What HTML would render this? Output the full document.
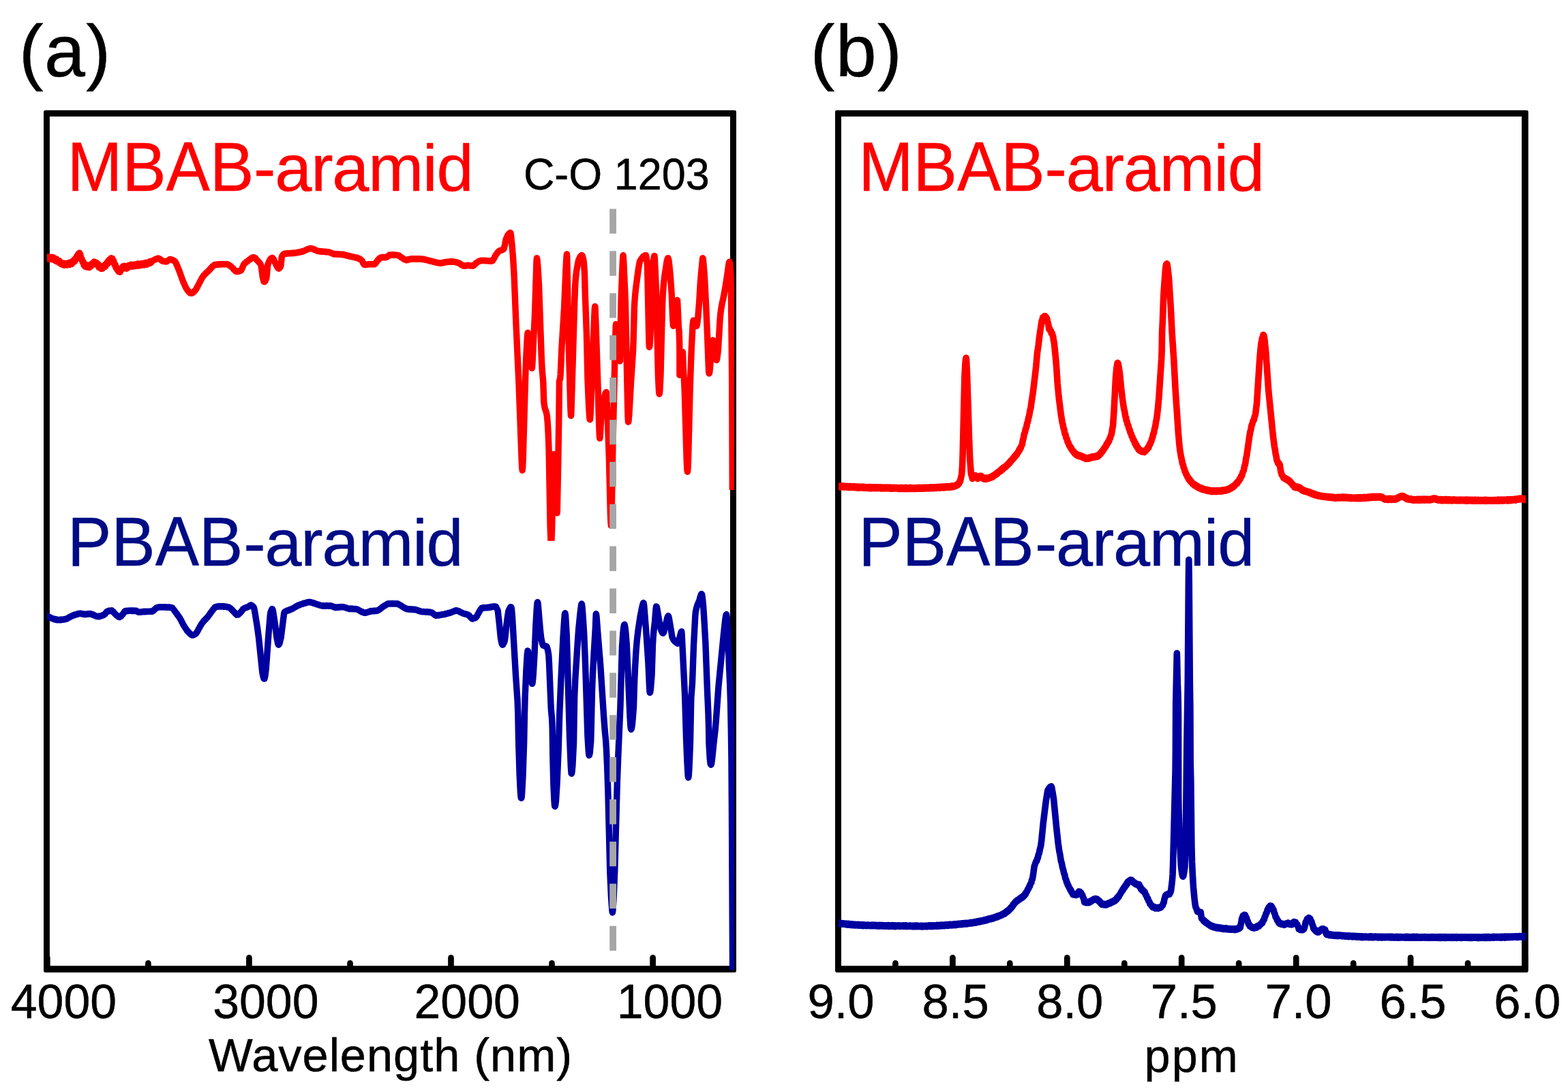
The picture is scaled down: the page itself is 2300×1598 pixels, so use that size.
<!DOCTYPE html>
<html lang="en"><head><meta charset="utf-8"><title>FT-IR and 1H NMR spectra of MBAB-aramid and PBAB-aramid</title>
<style>
html,body{margin:0;padding:0;background:#fff;}
body{width:2300px;height:1598px;overflow:hidden;}
svg{display:block;}
text{font-family:"Liberation Sans",sans-serif;}
</style></head><body>
<svg width="2300" height="1598" viewBox="0 0 2300 1598" role="img" aria-label="FT-IR and 1H NMR spectra">
<rect width="2300" height="1598" fill="#fff"/>
<defs>
<clipPath id="clipA"><rect x="69" y="171" width="1008" height="1256"/></clipPath>
<clipPath id="clipAr"><rect x="69" y="171" width="1008" height="622.7"/></clipPath>
<clipPath id="clipB"><rect x="1230" y="171" width="1008" height="1256"/></clipPath>
</defs>

<g id="panel-a">
<path d="M66.6,161.8 H1077.4 Q1080.0,161.8 1080.0,164.4 V1424.3 Q1080.0,1426.9 1077.4,1426.9 H66.6 Q64.0,1426.9 64.0,1424.3 V164.4 Q64.0,161.8 66.6,161.8 Z M72.9,170.9 V1417.2 H1071.0 V170.9 Z" fill="#000" fill-rule="evenodd"/>
<g stroke="#000" stroke-width="8.7" stroke-linecap="round"><line x1="69.3" y1="1420" x2="69.3" y2="1405.4" /><line x1="365.4" y1="1420" x2="365.4" y2="1405.4" /><line x1="661.5" y1="1420" x2="661.5" y2="1405.4" /><line x1="957.6" y1="1420" x2="957.6" y2="1405.4" /><line x1="217.4" y1="1420" x2="217.4" y2="1413.4" /><line x1="513.5" y1="1420" x2="513.5" y2="1413.4" /><line x1="809.5" y1="1420" x2="809.5" y2="1413.4" /></g>
<g fill="none" stroke-width="9.4" stroke-linejoin="round" stroke-linecap="butt">
<path clip-path="url(#clipAr)" stroke="#ff0000" d="M64.7,378.1 L65.7,377.0 L66.7,380.0 L67.7,376.6 L68.8,379.6 L69.8,377.0 L70.8,379.9 L71.8,377.0 L72.8,380.4 L73.8,377.6 L74.8,379.9 L75.7,377.2 L76.7,380.5 L77.7,377.5 L78.5,380.7 L79.3,378.5 L80.2,382.0 L81.1,379.6 L82.0,383.3 L83.0,380.1 L83.9,383.6 L84.8,381.9 L85.8,385.1 L86.8,382.4 L87.7,386.2 L88.7,384.3 L89.7,387.5 L90.8,385.6 L91.8,388.5 L92.9,386.1 L94.0,389.2 L95.0,386.5 L96.0,388.9 L96.9,386.4 L97.9,389.0 L98.9,386.1 L100.0,388.3 L101.0,385.4 L102.1,388.5 L103.1,385.2 L103.9,387.6 L104.7,384.2 L105.7,387.2 L106.6,383.5 L107.6,385.1 L108.5,381.3 L109.5,383.7 L110.4,379.4 L111.6,381.0 L112.6,376.0 L113.7,377.6 L114.7,372.8 L115.6,374.8 L116.4,371.1 L117.0,375.1 L117.7,372.9 L118.8,379.0 L119.9,379.5 L121.1,384.6 L122.3,384.5 L123.2,389.5 L124.0,388.0 L124.9,391.1 L125.7,388.3 L126.7,391.9 L127.6,389.2 L128.6,392.1 L129.6,389.4 L130.9,392.6 L131.8,389.0 L132.6,391.4 L133.6,387.7 L134.7,389.3 L135.7,386.3 L136.7,388.1 L138.0,384.0 L139.2,387.5 L140.1,384.9 L140.9,387.7 L142.1,385.8 L143.4,389.9 L144.2,387.7 L145.0,392.4 L145.9,390.5 L146.4,393.0 L147.0,393.3 L148.3,394.3 L149.2,391.3 L150.1,394.3 L151.1,390.3 L152.2,392.6 L153.3,389.3 L154.4,391.4 L155.6,386.7 L156.4,388.5 L157.3,384.7 L158.1,387.1 L159.0,382.5 L159.9,385.1 L160.8,380.7 L161.7,382.9 L163.1,378.7 L164.2,381.3 L164.9,379.2 L165.5,383.2 L166.7,382.8 L167.9,388.5 L168.9,387.9 L169.9,392.9 L170.9,392.1 L171.9,395.9 L172.8,394.2 L173.8,398.5 L174.9,396.1 L176.0,399.4 L176.6,397.7 L177.2,397.0 L178.3,393.8 L179.5,393.9 L180.4,390.6 L181.2,393.3 L182.3,390.2 L183.4,393.9 L184.5,390.7 L185.8,394.2 L186.7,390.8 L187.5,393.3 L188.4,389.4 L189.2,391.6 L190.1,389.1 L191.1,391.1 L192.1,388.2 L193.1,391.0 L194.1,388.5 L195.1,391.1 L196.1,388.1 L197.0,390.4 L198.0,388.0 L199.0,390.5 L200.0,387.7 L201.0,390.1 L202.0,387.0 L203.0,390.0 L204.0,387.1 L205.0,389.8 L206.0,387.1 L207.0,389.4 L208.0,386.5 L209.0,388.9 L210.1,386.4 L211.1,389.1 L212.2,385.7 L213.2,388.2 L214.2,385.2 L215.3,388.3 L216.3,385.2 L217.4,387.0 L218.5,384.4 L219.5,386.7 L220.4,383.3 L221.4,385.6 L222.4,383.3 L223.4,383.2 L224.4,382.3 L225.3,382.2 L226.3,381.2 L227.3,381.1 L228.3,380.2 L229.2,380.3 L230.1,379.5 L231.0,379.5 L232.4,379.0 L233.2,379.5 L234.5,379.9 L235.3,380.9 L236.2,381.2 L237.0,382.4 L238.3,382.8 L239.3,383.4 L240.4,383.2 L241.4,383.8 L242.4,383.6 L243.8,384.0 L244.6,383.4 L245.7,383.0 L246.7,382.0 L247.8,381.7 L248.8,380.6 L249.7,381.0 L250.6,380.6 L251.4,381.1 L252.6,381.1 L253.7,382.0 L254.8,382.2 L255.9,383.3 L256.8,383.7 L257.7,385.4 L258.4,386.6 L259.2,388.5 L260.1,390.3 L261.0,392.9 L261.9,394.9 L262.9,397.5 L263.9,400.1 L265.0,403.4 L266.0,406.0 L267.1,409.3 L268.1,411.8 L269.1,414.4 L270.1,416.4 L271.1,419.0 L272.1,420.8 L273.1,423.0 L274.1,424.3 L275.0,425.9 L276.0,426.7 L276.9,428.4 L277.8,428.8 L278.8,430.1 L280.2,430.2 L281.5,430.4 L282.8,429.3 L283.7,428.9 L284.7,427.6 L285.7,427.2 L286.7,425.7 L287.5,424.6 L288.4,422.8 L289.3,421.4 L290.3,419.2 L291.3,417.8 L292.2,415.5 L293.2,414.1 L294.1,411.9 L295.1,410.4 L296.1,408.1 L297.5,406.2 L298.9,403.9 L300.1,403.1 L301.3,401.4 L302.4,400.8 L303.5,399.4 L304.6,398.6 L305.7,397.3 L306.8,396.7 L307.8,395.1 L308.8,394.4 L309.8,392.9 L310.9,392.1 L311.9,390.6 L313.3,389.7 L314.8,388.5 L315.7,388.8 L316.6,388.3 L317.5,388.5 L318.5,387.9 L319.6,388.3 L320.7,387.7 L321.8,388.1 L322.9,387.6 L323.9,388.0 L324.9,387.6 L325.9,387.9 L326.8,387.6 L327.8,387.9 L328.8,387.6 L329.8,388.0 L330.8,387.6 L331.7,387.9 L332.7,387.5 L334.0,388.2 L335.2,388.5 L336.4,389.4 L337.6,390.0 L338.7,391.2 L339.8,391.7 L340.9,393.0 L342.1,393.9 L343.2,395.7 L344.4,396.6 L345.8,398.3 L346.8,398.3 L347.8,398.5 L348.8,398.1 L349.7,398.4 L350.9,397.7 L352.0,397.6 L353.1,396.9 L353.7,396.8 L354.6,394.8 L355.5,393.0 L356.5,390.4 L357.4,388.5 L358.6,386.7 L360.0,385.7 L361.0,384.5 L362.0,384.2 L363.0,383.2 L364.0,382.8 L364.9,381.6 L365.9,381.4 L366.9,380.2 L367.9,379.9 L368.8,378.8 L369.8,378.5 L370.7,377.8 L371.5,377.8 L372.6,377.6 L373.6,378.5 L374.5,378.7 L375.4,380.2 L376.3,380.8 L377.3,382.2 L378.2,382.8 L379.4,384.4 L380.5,385.2 L381.7,387.2 L382.9,389.2 L383.5,392.7 L385.2,406.3 L386.0,409.2 L386.8,412.7 L387.3,413.4 L387.8,413.6 L388.6,412.8 L389.3,412.0 L390.1,409.4 L390.9,407.7 L392.5,391.3 L393.0,388.0 L394.2,384.7 L395.5,382.1 L396.9,379.7 L398.0,379.0 L399.3,378.2 L399.8,378.5 L400.6,379.4 L401.5,380.8 L402.8,383.9 L404.0,386.2 L405.0,388.6 L406.0,390.2 L407.1,392.7 L408.1,393.7 L409.0,394.2 L409.7,393.5 L410.4,393.2 L411.8,390.5 L413.3,377.0 L414.6,374.6 L415.4,373.4 L416.3,373.0 L417.2,372.2 L418.2,372.5 L419.2,372.0 L420.2,372.2 L421.1,371.7 L422.1,372.1 L423.1,371.6 L424.1,371.9 L425.0,371.5 L426.0,371.8 L427.0,371.4 L427.9,371.8 L428.9,371.2 L429.9,371.6 L430.9,371.1 L431.8,371.5 L432.8,370.9 L433.8,371.1 L434.7,370.6 L435.7,370.8 L436.7,370.2 L437.6,370.5 L438.6,370.0 L439.5,370.1 L440.6,369.5 L441.6,369.7 L442.7,369.0 L443.7,369.2 L444.8,368.5 L445.8,368.4 L446.9,367.6 L447.9,367.4 L448.9,366.6 L450.0,366.5 L451.0,365.6 L452.0,365.6 L452.9,364.9 L453.8,365.0 L454.7,364.5 L455.7,364.8 L456.6,364.5 L457.5,365.0 L458.5,364.9 L459.5,365.7 L460.5,365.8 L461.5,366.7 L462.5,366.8 L463.6,367.5 L464.6,367.7 L465.8,368.4 L466.9,368.4 L467.9,368.8 L468.9,368.5 L469.9,369.0 L470.9,368.7 L471.9,369.2 L472.9,368.9 L473.9,369.3 L475.0,369.1 L476.0,369.5 L477.0,369.2 L478.0,369.7 L479.0,369.4 L480.0,369.9 L481.0,369.6 L482.0,370.0 L482.9,369.9 L483.9,370.6 L484.9,370.7 L486.0,371.5 L487.0,371.5 L488.1,372.4 L489.0,372.2 L490.0,373.0 L491.0,372.6 L492.0,373.1 L493.0,372.7 L494.1,373.2 L495.1,372.8 L496.1,373.3 L497.2,372.9 L498.2,373.4 L499.2,373.1 L500.2,373.5 L501.3,373.2 L502.3,373.7 L503.3,373.3 L504.3,373.9 L505.2,373.7 L506.2,374.4 L507.1,374.2 L508.1,374.9 L509.0,374.8 L510.0,375.4 L510.9,375.3 L511.9,376.0 L512.9,375.8 L513.9,376.4 L515.0,376.3 L516.0,376.9 L517.1,376.7 L518.1,377.3 L519.1,377.1 L520.2,377.8 L521.2,377.6 L522.3,378.2 L523.3,378.0 L524.3,378.8 L525.3,378.7 L526.2,379.5 L527.2,379.5 L528.1,380.5 L529.1,380.7 L530.1,381.7 L531.2,382.8 L532.4,385.6 L533.7,387.5 L534.2,388.3 L534.8,388.6 L535.8,388.6 L536.7,388.1 L537.7,388.4 L538.7,387.9 L539.6,388.1 L540.6,387.6 L541.5,388.0 L542.5,387.6 L543.5,387.9 L544.4,387.6 L545.4,387.9 L546.3,387.5 L547.3,387.9 L548.3,387.5 L549.2,387.9 L549.9,387.2 L550.8,386.6 L551.9,384.7 L553.0,383.5 L554.1,381.7 L555.0,381.2 L555.8,379.9 L556.7,379.5 L557.5,378.4 L558.3,378.3 L559.1,377.6 L559.9,377.8 L560.8,377.4 L561.8,377.8 L562.7,377.4 L563.7,377.7 L564.7,377.4 L565.6,377.8 L566.6,377.4 L567.8,377.2 L568.9,375.9 L570.0,375.5 L571.2,374.1 L572.0,374.3 L573.0,373.9 L573.9,374.2 L575.0,373.8 L576.1,374.2 L577.2,373.9 L578.2,374.3 L579.3,374.0 L580.4,374.4 L581.4,374.1 L582.3,374.6 L583.3,374.4 L584.2,374.8 L585.5,375.1 L586.6,376.4 L587.7,376.8 L588.8,378.0 L589.9,378.3 L590.9,379.3 L592.0,379.7 L593.0,380.7 L594.3,380.9 L595.5,381.7 L596.5,381.2 L597.4,381.6 L598.5,380.8 L599.6,381.0 L600.7,380.2 L601.8,380.4 L603.3,379.7 L604.3,380.2 L605.3,379.8 L606.3,380.1 L607.3,379.8 L608.3,380.2 L609.2,379.8 L610.2,380.1 L611.2,379.8 L612.2,380.2 L613.2,379.8 L614.2,380.2 L615.2,379.8 L616.2,380.2 L617.2,379.8 L618.2,380.3 L619.3,380.0 L620.4,380.6 L621.5,380.3 L622.5,381.0 L623.5,380.8 L624.4,381.4 L625.4,381.2 L626.3,381.8 L627.3,381.6 L628.2,382.3 L629.2,382.1 L630.2,382.8 L631.2,382.6 L632.2,383.3 L633.2,383.1 L634.2,383.7 L635.2,383.6 L636.2,384.3 L637.2,384.2 L638.2,384.8 L639.2,384.6 L640.2,385.3 L641.2,385.2 L642.2,385.8 L643.3,385.6 L644.4,386.2 L645.6,386.0 L646.8,386.3 L648.0,385.8 L649.0,385.9 L650.0,385.3 L651.0,385.5 L652.0,384.8 L652.9,385.0 L654.2,384.4 L655.4,384.7 L656.5,384.2 L657.6,384.4 L658.7,383.9 L659.8,384.2 L660.8,383.8 L661.8,384.2 L662.8,383.7 L663.8,384.1 L664.7,383.7 L665.8,384.3 L666.9,384.2 L668.0,384.7 L669.1,384.6 L670.1,385.4 L671.1,385.3 L672.1,385.9 L673.2,385.9 L674.5,387.0 L675.6,387.4 L676.8,388.6 L678.0,389.0 L678.8,389.8 L679.7,389.8 L680.6,390.3 L681.5,389.9 L682.6,390.2 L683.7,389.6 L684.7,389.9 L685.8,389.3 L686.8,389.5 L687.9,389.3 L689.0,389.9 L690.0,389.6 L691.1,390.1 L692.1,389.9 L693.5,390.2 L694.3,389.4 L695.1,389.5 L696.0,388.1 L697.0,387.7 L698.0,386.4 L699.0,385.8 L699.9,384.9 L700.8,384.6 L701.8,383.7 L702.7,383.5 L703.8,382.6 L704.8,382.6 L705.8,382.2 L706.7,382.6 L707.6,382.1 L708.6,382.5 L709.6,382.3 L710.6,382.7 L711.6,382.3 L712.7,382.7 L713.7,382.5 L714.7,382.9 L715.7,382.6 L716.7,383.1 L717.8,382.7 L718.8,383.1 L719.8,382.8 L720.8,383.3 L721.6,382.8 L722.4,382.7 L723.8,380.5 L724.9,378.8 L726.0,376.4 L727.0,374.7 L728.0,373.0 L729.0,372.0 L730.0,370.3 L731.0,369.4 L731.9,368.4 L732.7,368.1 L733.9,367.4 L735.0,367.5 L736.1,366.7 L737.2,366.7 L738.0,365.8 L738.8,365.7 L739.8,362.4 L740.9,357.4 L742.0,351.5 L743.2,348.7 L744.5,345.5 L745.6,344.3 L746.6,342.8 L747.5,342.2 L748.3,341.4 L748.8,341.5 L749.2,342.8 L749.6,346.1 L751.4,363.5 L752.8,381.8 L754.1,404.0 L757.0,476.2 L761.0,562.7 L765.2,676.1 L765.7,686.4 L766.2,690.2 L766.4,689.2 L766.7,685.6 L767.3,671.0 L770.9,545.9 L771.8,524.3 L773.4,493.9 L774.0,488.4 L774.2,488.3 L774.3,488.6 L774.7,490.4 L776.7,512.5 L779.0,533.9 L779.9,539.5 L780.3,540.3 L780.5,539.4 L781.1,530.9 L782.4,502.7 L784.5,461.6 L787.0,382.8 L787.4,378.6 L787.7,379.3 L788.0,381.1 L789.0,392.3 L790.5,417.7 L794.3,525.2 L795.1,541.2 L796.8,560.3 L797.8,589.9 L798.9,597.4 L799.5,600.1 L800.4,602.1 L801.3,605.0 L802.3,609.8 L803.2,619.3 L804.1,634.1 L805.1,660.9 L807.1,772.5 L807.9,793.5 L808.2,798.3 L808.5,799.7 L808.9,794.6 L809.6,777.1 L811.5,688.6 L811.9,673.1 L812.3,666.6 L812.4,666.4 L812.5,666.6 L812.8,668.2 L813.3,676.3 L816.4,746.7 L816.9,752.4 L817.1,752.9 L817.3,751.3 L818.8,677.4 L819.9,609.1 L820.4,560.3 L820.8,557.8 L821.5,556.2 L821.7,555.0 L822.2,549.3 L824.0,508.9 L827.5,453.0 L829.7,400.2 L830.8,378.8 L831.4,372.9 L831.6,374.6 L831.9,383.4 L833.1,449.5 L834.5,513.6 L836.7,595.6 L837.4,610.0 L837.6,610.2 L837.7,608.8 L838.1,600.9 L842.7,445.5 L843.5,423.4 L844.0,414.1 L844.8,405.2 L845.6,398.1 L847.2,388.7 L848.6,382.0 L849.9,379.1 L851.1,376.6 L852.3,375.4 L853.2,374.5 L853.7,374.7 L854.1,375.1 L854.6,376.4 L855.5,379.8 L856.2,383.6 L857.5,400.6 L858.2,429.0 L860.4,489.0 L862.0,557.7 L863.6,594.8 L864.7,612.5 L865.1,615.3 L865.3,615.8 L865.5,615.6 L866.2,607.0 L871.7,464.9 L872.3,452.8 L872.6,450.1 L872.8,449.6 L872.9,449.7 L873.3,456.2 L874.3,484.2 L877.1,569.0 L878.7,623.7 L879.4,640.5 L879.8,643.2 L880.2,641.3 L881.9,611.4 L883.6,597.5 L884.8,590.9 L885.7,587.2 L886.6,582.8 L887.4,579.3 L888.1,576.8 L888.8,575.9 L889.3,575.5 L889.5,576.6 L890.3,589.3 L892.1,636.6 L893.4,673.6 L895.3,752.6 L895.9,766.7 L896.2,770.2 L896.4,771.4 L896.8,766.8 L897.2,752.4 L898.9,657.5 L901.8,527.9 L903.1,480.3 L903.5,475.7 L903.9,476.5 L904.2,478.7 L908.2,523.9 L908.9,528.9 L909.2,529.9 L909.3,530.0 L909.4,529.7 L909.8,516.5 L910.7,457.3 L911.2,437.3 L912.5,402.9 L913.5,380.6 L914.0,374.8 L914.3,376.1 L914.7,382.0 L916.6,423.7 L917.5,447.2 L920.6,596.5 L921.1,613.4 L921.5,619.3 L921.8,618.9 L922.1,616.7 L922.9,608.1 L925.4,563.2 L928.3,519.6 L929.1,501.2 L930.4,451.9 L931.0,440.7 L931.8,431.4 L932.7,422.7 L936.3,395.6 L937.2,390.3 L938.0,385.6 L939.0,382.4 L939.9,381.3 L940.8,379.6 L942.2,378.0 L943.7,376.1 L944.8,375.7 L945.9,374.8 L946.9,374.9 L947.5,374.8 L947.9,376.1 L949.1,384.2 L949.5,391.1 L949.9,406.3 L951.7,493.6 L952.1,505.7 L952.5,509.4 L952.9,508.1 L953.2,504.4 L954.0,490.2 L956.6,414.2 L957.6,392.3 L958.1,385.4 L958.9,379.4 L959.6,375.5 L959.9,375.4 L960.1,376.0 L960.5,382.2 L961.5,402.8 L962.6,432.7 L965.4,552.0 L966.4,572.1 L966.8,576.7 L967.2,578.2 L967.5,576.6 L967.9,572.0 L969.0,550.9 L971.6,447.8 L972.3,431.2 L973.5,416.0 L975.0,403.7 L978.2,383.3 L979.1,379.9 L979.5,378.9 L980.0,378.6 L980.6,380.3 L981.4,385.8 L983.0,400.9 L983.8,411.3 L985.2,431.8 L986.8,468.9 L987.5,478.0 L987.6,478.3 L987.8,478.2 L988.1,477.4 L989.0,473.3 L991.6,449.8 L992.4,443.7 L993.3,440.4 L993.5,440.5 L993.7,441.7 L995.3,477.1 L996.2,487.6 L996.5,496.3 L996.8,508.3 L996.9,550.4 L997.4,549.1 L998.0,545.2 L1000.5,520.0 L1001.1,516.9 L1001.3,516.4 L1001.5,516.8 L1002.2,539.3 L1003.5,558.8 L1004.2,573.5 L1007.2,675.8 L1007.8,688.0 L1008.1,691.1 L1008.4,692.2 L1008.7,690.8 L1009.0,686.9 L1009.7,670.3 L1012.0,576.2 L1013.3,537.2 L1014.3,511.9 L1016.1,476.7 L1016.6,472.0 L1017.0,470.2 L1017.5,470.5 L1018.0,471.1 L1019.2,474.2 L1020.5,476.8 L1021.5,478.5 L1021.8,478.3 L1022.1,477.7 L1022.8,474.2 L1023.9,464.7 L1025.6,443.8 L1027.2,417.1 L1028.2,404.3 L1030.6,379.2 L1030.8,378.6 L1031.1,379.3 L1031.7,384.1 L1033.1,400.8 L1033.8,412.4 L1035.8,451.2 L1037.6,493.3 L1039.3,538.3 L1039.7,545.6 L1040.1,548.0 L1040.4,547.6 L1040.7,546.6 L1041.3,541.8 L1044.2,508.1 L1044.9,502.2 L1045.5,499.6 L1045.8,499.2 L1046.1,499.8 L1046.8,502.5 L1049.3,521.5 L1050.2,526.9 L1050.6,528.1 L1051.1,528.5 L1051.4,527.8 L1051.8,525.9 L1053.2,515.8 L1053.6,511.0 L1056.0,470.0 L1057.0,458.8 L1058.6,448.3 L1059.7,443.0 L1060.8,438.2 L1061.9,432.8 L1062.7,428.4 L1063.6,423.3 L1066.6,404.6 L1068.9,387.7 L1069.5,385.1 L1069.8,384.3 L1070.1,384.1 L1070.5,385.4 L1070.9,388.6 L1071.8,400.8 L1072.5,436.4 L1073.7,559.1 L1074.3,719.0"/>
<path clip-path="url(#clipA)" stroke="#0000a0" d="M64.7,902.3 L65.6,902.3 L66.6,903.3 L67.5,903.2 L68.4,903.9 L69.4,903.8 L70.3,904.8 L71.2,904.7 L72.2,905.6 L73.1,905.6 L74.1,906.6 L75.0,906.6 L75.9,907.5 L76.9,907.4 L78.0,908.2 L79.0,908.1 L80.0,909.0 L80.9,908.6 L81.9,909.4 L82.8,909.1 L83.7,909.8 L84.8,909.4 L85.8,909.7 L86.9,909.3 L87.9,909.8 L88.9,909.3 L89.8,909.7 L90.8,909.0 L91.8,909.4 L92.7,908.9 L93.8,909.1 L94.8,908.5 L95.9,908.7 L96.9,908.1 L98.0,908.2 L99.1,907.1 L100.2,906.9 L101.3,905.8 L102.4,905.7 L103.5,904.6 L104.5,904.7 L105.5,903.7 L106.5,903.8 L107.5,902.8 L108.5,902.9 L109.5,902.0 L110.6,902.1 L111.6,901.4 L112.6,901.6 L113.7,900.8 L114.8,901.0 L115.9,900.3 L117.0,900.6 L118.0,900.1 L119.0,900.6 L119.9,900.4 L120.9,901.1 L121.9,900.8 L122.8,901.6 L124.3,901.3 L125.3,901.7 L126.4,901.0 L127.4,901.4 L128.5,900.8 L129.6,901.1 L130.6,900.5 L131.6,901.0 L132.5,900.5 L133.4,901.2 L134.3,900.9 L135.4,901.9 L136.4,901.8 L137.5,902.8 L138.5,902.8 L139.6,903.7 L140.6,903.7 L141.7,904.6 L143.1,904.4 L144.0,904.7 L145.0,904.2 L145.9,904.7 L147.0,903.9 L148.1,904.0 L149.2,903.3 L150.1,903.4 L151.0,902.5 L151.9,902.7 L152.8,901.8 L153.8,901.3 L154.8,899.8 L155.7,899.1 L156.6,897.5 L157.6,897.2 L158.6,896.5 L159.7,896.7 L160.7,896.0 L161.6,896.4 L162.5,895.9 L163.4,896.3 L164.2,895.9 L165.3,897.1 L166.2,897.7 L167.1,899.1 L168.1,899.7 L169.0,901.1 L169.9,901.5 L170.9,902.9 L171.9,903.3 L172.9,904.6 L174.0,904.9 L175.2,905.6 L176.3,904.8 L177.4,904.4 L178.3,903.0 L179.3,902.4 L180.2,901.0 L181.4,899.6 L182.6,897.4 L183.2,897.3 L183.8,896.6 L184.8,896.9 L185.8,896.3 L186.8,896.7 L187.8,896.2 L188.8,896.4 L189.8,895.9 L190.8,896.3 L191.9,895.9 L192.9,896.4 L194.0,895.8 L195.1,896.4 L196.1,895.9 L197.1,896.5 L198.0,896.1 L199.0,896.7 L199.9,896.3 L200.9,897.3 L201.9,897.4 L202.9,898.3 L204.2,898.1 L205.2,898.4 L206.3,897.9 L207.3,898.2 L208.4,897.6 L209.4,897.9 L210.5,897.3 L211.4,897.8 L212.4,897.3 L213.4,897.7 L214.3,897.3 L215.3,897.6 L216.3,897.2 L217.2,897.5 L218.2,897.1 L219.2,897.4 L220.1,897.0 L221.1,897.4 L222.0,896.9 L223.0,897.4 L223.7,896.6 L224.9,896.4 L225.8,895.0 L226.7,894.6 L227.6,893.2 L228.5,892.8 L229.4,891.9 L230.2,892.0 L231.4,891.1 L232.6,891.2 L234.0,890.6 L235.0,891.1 L236.1,890.7 L237.2,891.0 L238.3,890.7 L239.3,891.1 L240.4,890.6 L241.4,891.1 L242.4,890.8 L243.3,891.2 L244.3,890.9 L245.3,891.3 L246.3,890.9 L247.3,891.4 L248.3,891.0 L249.3,891.5 L250.2,891.1 L251.2,891.6 L252.5,891.6 L253.9,893.5 L254.9,894.5 L256.0,896.4 L257.0,897.4 L258.1,899.2 L259.2,900.3 L260.2,902.2 L261.3,903.2 L262.3,905.0 L263.5,906.4 L264.7,908.8 L265.7,910.2 L266.6,912.6 L267.6,914.0 L268.6,916.3 L269.6,917.7 L270.5,919.6 L271.5,920.7 L272.4,922.5 L273.4,923.5 L274.3,925.3 L275.2,925.8 L276.0,927.3 L277.0,927.8 L277.9,929.2 L278.9,929.7 L279.8,931.0 L280.6,931.1 L281.4,932.1 L282.6,931.9 L283.9,932.0 L285.1,931.0 L286.2,930.8 L287.3,929.5 L288.0,929.2 L289.3,926.8 L290.3,925.3 L291.4,922.8 L292.5,921.3 L293.6,918.8 L294.7,917.4 L295.7,915.4 L296.7,914.2 L297.7,912.7 L298.6,911.9 L299.6,910.4 L300.5,910.0 L301.4,908.5 L302.3,907.9 L303.3,906.5 L304.2,906.1 L305.1,904.3 L306.1,903.5 L307.1,901.7 L308.0,900.9 L309.0,899.1 L309.9,898.3 L310.9,896.5 L311.8,895.7 L312.8,893.9 L313.8,893.2 L315.1,891.1 L316.4,890.7 L317.3,890.1 L318.2,890.4 L319.1,889.9 L320.1,890.2 L321.0,889.6 L321.9,890.1 L322.9,889.6 L323.9,890.1 L324.9,889.5 L325.8,890.0 L326.8,889.6 L327.8,890.2 L328.7,889.8 L329.7,890.4 L330.6,890.1 L331.6,890.5 L332.5,890.3 L333.4,891.1 L334.4,890.8 L335.3,891.4 L336.2,891.2 L337.3,892.3 L338.4,892.8 L339.4,894.3 L340.4,894.8 L341.3,896.3 L342.3,896.9 L343.3,898.4 L344.3,898.8 L345.2,900.4 L346.2,901.0 L347.3,902.2 L348.4,902.0 L349.5,902.1 L350.9,900.4 L351.9,899.9 L352.8,898.4 L353.7,897.9 L354.6,896.3 L355.4,895.7 L356.2,894.1 L357.5,893.3 L358.3,892.4 L359.1,892.4 L360.1,891.6 L361.1,891.8 L362.1,891.0 L363.1,891.1 L364.1,890.3 L365.1,890.0 L366.2,888.8 L367.2,888.7 L368.0,887.9 L368.8,888.5 L369.6,888.4 L370.3,889.3 L371.2,889.7 L372.1,891.1 L372.7,892.6 L373.5,896.3 L377.3,919.5 L379.6,936.4 L384.8,986.7 L385.6,990.5 L386.3,993.6 L387.0,995.9 L387.6,996.1 L387.9,996.1 L388.2,995.3 L388.8,992.6 L390.3,981.2 L394.0,929.7 L396.3,902.7 L396.7,899.5 L397.2,897.7 L398.3,895.1 L399.1,893.4 L399.5,893.8 L399.9,894.4 L400.8,898.4 L403.5,916.3 L405.9,935.8 L406.8,939.6 L407.6,944.1 L408.1,945.5 L408.6,946.2 L409.3,945.4 L410.1,944.0 L411.1,939.4 L412.1,935.9 L416.3,902.8 L416.7,900.0 L417.2,898.5 L418.1,897.5 L419.4,897.2 L420.4,896.3 L421.4,896.4 L422.5,895.5 L423.5,895.7 L424.5,894.8 L425.5,894.9 L426.6,894.0 L427.6,894.0 L428.6,893.2 L429.7,893.1 L430.7,892.0 L431.7,891.8 L432.8,890.7 L433.8,890.5 L434.8,889.4 L435.7,889.4 L436.5,888.5 L437.4,888.6 L438.5,887.8 L439.5,887.9 L440.6,887.0 L441.7,886.9 L442.8,886.1 L443.8,886.3 L444.7,885.5 L445.7,885.7 L446.7,884.9 L447.7,885.1 L448.7,884.4 L449.7,884.5 L450.7,883.8 L451.7,883.9 L452.9,883.4 L454.1,883.7 L455.3,883.4 L456.5,884.1 L457.5,883.9 L458.5,884.7 L459.4,884.5 L460.4,885.4 L461.4,885.2 L462.4,886.0 L463.4,886.0 L464.4,886.7 L465.4,886.6 L466.4,887.4 L467.4,887.3 L468.4,888.1 L469.4,887.9 L470.3,888.6 L471.3,888.4 L472.2,889.1 L473.2,888.6 L474.2,889.2 L475.2,888.7 L476.2,889.2 L477.2,888.7 L478.2,889.2 L479.2,888.6 L480.2,889.1 L481.1,888.7 L482.1,889.2 L483.1,888.7 L484.1,889.3 L485.1,888.7 L486.5,889.5 L487.4,889.4 L488.3,890.2 L489.2,890.2 L490.2,891.0 L491.1,890.8 L492.0,891.6 L493.2,891.0 L494.5,891.5 L495.4,890.9 L496.4,891.2 L497.4,890.7 L498.4,891.0 L499.4,890.5 L500.4,890.9 L501.6,890.4 L502.8,890.9 L503.8,890.6 L504.7,891.2 L505.8,891.1 L506.8,891.9 L507.9,891.8 L508.9,892.6 L510.0,892.6 L510.9,893.2 L511.9,893.0 L512.9,893.6 L513.9,893.1 L514.8,893.6 L515.8,893.1 L516.8,893.7 L517.8,893.3 L518.8,893.7 L519.7,893.4 L520.7,893.9 L521.7,893.5 L522.7,893.9 L523.8,893.9 L524.9,894.7 L525.8,894.8 L526.8,895.9 L527.7,896.0 L528.7,897.1 L529.7,897.2 L530.6,898.0 L531.5,897.8 L532.4,898.7 L533.3,898.5 L534.4,899.3 L535.6,898.9 L536.8,899.2 L538.0,898.5 L538.9,898.7 L539.9,897.9 L540.8,898.1 L541.8,897.3 L542.8,897.4 L543.7,896.6 L544.8,897.0 L545.8,896.5 L546.9,896.8 L547.9,896.2 L549.0,896.7 L550.0,896.1 L551.1,896.6 L552.1,896.0 L553.3,896.3 L554.4,895.6 L555.4,895.4 L556.3,894.4 L557.3,894.1 L558.2,892.8 L559.2,892.6 L560.1,891.3 L561.1,891.0 L562.0,889.9 L562.9,889.8 L563.8,888.7 L564.7,888.6 L565.7,887.6 L566.6,887.5 L567.4,886.7 L568.3,886.7 L569.1,885.8 L570.0,886.1 L570.8,885.6 L571.9,886.0 L572.9,885.6 L574.0,886.1 L575.0,885.6 L576.0,886.1 L577.1,885.6 L578.1,886.0 L579.1,885.6 L580.2,886.1 L581.2,885.6 L582.3,886.1 L583.6,886.0 L584.9,887.0 L585.9,887.1 L586.9,888.2 L587.9,888.4 L588.9,889.4 L589.9,889.6 L591.0,890.8 L592.0,890.9 L593.0,892.0 L594.0,892.1 L594.9,892.9 L595.8,892.8 L596.6,893.7 L597.8,893.4 L599.0,894.1 L600.0,893.7 L601.1,894.3 L602.1,893.8 L603.2,894.4 L604.2,894.0 L605.2,894.6 L606.3,894.1 L607.3,894.7 L608.4,894.3 L609.4,894.8 L610.6,894.7 L611.8,895.4 L612.8,895.4 L613.7,896.2 L614.7,896.1 L615.6,896.9 L616.6,896.7 L617.8,897.5 L619.0,897.4 L620.0,897.8 L621.0,897.4 L622.1,897.9 L623.1,897.6 L624.1,898.1 L625.2,897.8 L626.2,898.2 L627.2,897.8 L628.3,898.3 L629.3,897.9 L630.3,898.6 L631.4,898.2 L632.4,898.7 L633.2,898.7 L634.0,899.5 L635.0,899.8 L635.9,901.0 L636.8,901.3 L637.7,902.5 L638.6,902.5 L639.4,903.3 L640.3,902.7 L641.3,903.1 L642.2,902.6 L643.2,903.1 L644.1,902.5 L645.1,902.8 L646.0,902.2 L647.0,902.4 L647.9,901.8 L648.9,902.0 L649.8,901.5 L650.8,901.7 L651.7,901.1 L652.7,901.4 L653.7,900.6 L654.7,900.9 L655.7,900.1 L656.7,900.3 L657.7,899.5 L658.7,899.7 L659.7,899.1 L660.7,899.3 L661.6,898.4 L662.5,898.5 L663.5,897.7 L664.4,897.7 L665.4,896.9 L666.3,897.0 L667.2,896.2 L668.2,896.5 L669.1,895.8 L670.0,896.3 L670.9,895.9 L672.1,896.8 L673.2,896.7 L674.2,897.9 L675.3,897.9 L676.4,898.9 L677.5,899.0 L678.5,900.0 L679.5,899.9 L680.5,900.6 L681.5,900.4 L682.5,901.1 L683.5,900.9 L684.5,901.7 L685.7,901.6 L686.8,902.6 L688.3,903.2 L689.4,904.9 L690.5,905.7 L691.6,907.4 L692.4,907.3 L693.1,908.1 L694.5,907.4 L695.9,907.3 L696.9,906.5 L697.8,906.4 L698.5,905.3 L699.5,904.3 L700.8,901.4 L702.0,899.5 L702.9,897.5 L703.7,896.6 L704.6,894.7 L705.7,893.4 L706.6,892.2 L707.2,892.1 L708.2,892.3 L709.2,891.6 L710.2,892.0 L711.2,891.5 L712.2,891.9 L713.2,891.4 L714.2,891.8 L715.2,891.2 L716.2,891.7 L717.2,891.1 L718.2,891.5 L719.2,890.8 L720.1,891.1 L721.1,890.3 L722.1,890.6 L723.1,890.0 L724.1,890.2 L725.2,889.7 L726.3,890.0 L727.4,890.2 L728.5,892.4 L729.9,895.0 L730.3,896.7 L732.4,915.4 L734.4,936.0 L735.2,940.2 L735.9,943.7 L736.5,945.6 L737.0,946.2 L737.7,946.0 L738.7,944.1 L739.9,941.6 L740.5,939.2 L741.2,933.5 L743.1,915.3 L744.9,902.5 L745.8,896.9 L746.4,895.2 L747.8,892.6 L748.9,890.8 L749.8,890.8 L750.2,891.6 L750.6,894.3 L751.5,905.1 L756.6,992.5 L759.0,1026.8 L759.8,1046.9 L760.6,1088.7 L762.1,1136.3 L763.4,1162.8 L764.0,1169.2 L764.3,1170.8 L764.6,1171.3 L764.9,1170.8 L765.2,1169.4 L765.7,1163.5 L767.0,1139.6 L768.7,1089.1 L769.5,1047.7 L770.2,1022.1 L771.8,984.5 L773.3,960.1 L774.0,954.9 L774.2,954.9 L774.4,955.3 L774.8,956.9 L775.6,962.7 L779.6,999.5 L780.4,1003.0 L780.6,1003.4 L780.8,1003.3 L781.1,1002.1 L781.6,997.8 L782.3,990.0 L784.1,959.0 L785.8,918.3 L787.0,897.9 L787.8,886.7 L788.2,884.2 L788.5,883.5 L789.0,885.0 L789.5,889.6 L791.2,910.1 L793.1,930.9 L793.7,935.6 L794.7,941.1 L795.6,944.4 L796.5,947.1 L797.7,947.3 L798.8,948.0 L799.9,947.7 L801.0,948.4 L801.8,948.4 L802.3,949.5 L803.6,954.2 L804.8,961.6 L805.5,973.1 L808.1,1036.3 L808.5,1043.2 L809.5,1053.0 L809.9,1061.1 L810.2,1069.7 L810.8,1110.2 L811.9,1152.1 L813.0,1175.6 L813.5,1181.5 L813.7,1182.9 L814.0,1183.4 L814.4,1182.9 L814.7,1181.4 L815.5,1175.3 L817.1,1149.9 L819.2,1100.3 L820.7,1049.4 L822.7,1001.8 L826.1,933.3 L827.6,910.6 L828.3,901.9 L828.7,900.1 L829.0,899.8 L829.6,903.5 L831.3,932.0 L835.5,1081.1 L837.3,1124.8 L837.9,1133.1 L838.1,1134.9 L838.4,1135.3 L838.7,1134.4 L839.1,1132.0 L839.9,1123.6 L841.6,1089.8 L842.7,1022.2 L843.9,995.6 L847.2,943.8 L848.7,923.0 L851.0,900.1 L852.5,888.4 L852.9,886.5 L853.2,885.9 L853.8,888.3 L854.5,896.1 L855.9,916.3 L856.8,931.5 L858.5,972.4 L861.9,1079.9 L863.2,1101.4 L863.7,1106.7 L864.1,1108.5 L864.4,1108.2 L864.6,1107.5 L865.3,1104.0 L866.7,1088.4 L867.2,1071.7 L868.5,1014.0 L869.4,990.8 L871.2,957.0 L873.3,922.2 L874.1,902.3 L874.3,900.9 L874.3,900.8 L874.5,901.1 L875.1,905.0 L876.7,926.7 L880.7,975.3 L885.5,1049.2 L887.0,1069.8 L888.6,1086.4 L889.4,1098.9 L890.6,1124.0 L891.8,1159.1 L894.8,1280.1 L896.4,1315.3 L897.8,1335.0 L898.1,1338.0 L898.4,1339.0 L898.7,1338.1 L899.0,1335.1 L900.1,1319.0 L901.8,1277.2 L905.3,1149.6 L906.8,1109.7 L909.9,1038.6 L912.4,949.6 L913.9,928.4 L914.7,921.4 L915.4,917.3 L915.8,916.5 L916.1,916.4 L916.2,916.6 L917.0,920.5 L918.0,929.3 L919.3,945.8 L924.0,1051.8 L924.9,1065.5 L925.3,1069.0 L925.7,1070.2 L926.1,1069.7 L926.6,1068.2 L927.5,1062.4 L928.4,1052.2 L929.5,1038.0 L930.6,1002.0 L931.4,983.1 L932.8,958.4 L934.2,940.7 L936.0,925.2 L938.7,907.1 L939.6,901.8 L940.6,897.2 L941.5,892.5 L942.5,888.5 L943.4,885.0 L943.8,884.6 L944.1,884.8 L944.8,889.1 L947.8,926.9 L950.8,971.0 L952.6,1009.4 L953.0,1014.6 L953.3,1016.5 L953.6,1016.2 L953.9,1015.0 L954.5,1010.4 L956.1,990.2 L957.5,946.2 L958.1,935.7 L958.8,927.4 L960.5,912.2 L962.0,893.7 L962.6,889.9 L962.9,889.9 L963.3,890.7 L964.1,894.3 L968.5,920.8 L969.3,923.1 L970.2,925.9 L971.1,927.4 L971.8,928.9 L972.2,929.1 L972.8,929.2 L973.2,928.6 L973.7,927.6 L974.7,923.2 L975.7,919.6 L976.7,914.9 L977.7,911.3 L978.7,906.7 L979.5,904.8 L980.2,903.7 L980.8,904.8 L981.4,907.3 L982.3,912.9 L983.2,917.9 L984.1,923.7 L985.0,928.7 L985.9,934.6 L986.4,936.0 L987.1,937.1 L988.0,939.0 L989.0,940.0 L989.9,941.3 L990.9,941.7 L991.8,942.9 L992.7,943.2 L993.9,944.3 L994.3,944.0 L994.6,943.8 L995.3,941.8 L996.4,937.8 L997.6,932.8 L998.7,928.9 L999.3,926.8 L999.8,926.6 L1000.2,931.5 L1004.6,1020.5 L1006.5,1083.3 L1007.9,1117.8 L1008.9,1135.5 L1009.3,1139.7 L1009.7,1141.0 L1010.0,1140.2 L1010.3,1137.9 L1010.9,1128.9 L1012.5,1090.0 L1013.8,1024.6 L1015.5,1002.6 L1017.5,947.3 L1019.8,904.3 L1020.4,897.3 L1021.9,891.2 L1022.9,887.7 L1023.9,885.9 L1024.8,883.3 L1025.7,881.6 L1026.9,876.9 L1028.1,873.1 L1028.6,871.9 L1029.2,871.5 L1029.7,872.8 L1030.3,876.2 L1031.6,888.7 L1032.9,908.8 L1034.9,944.3 L1037.3,1009.2 L1039.0,1048.3 L1039.6,1069.6 L1039.9,1091.1 L1041.3,1113.6 L1042.0,1119.9 L1042.4,1121.5 L1042.8,1122.2 L1043.1,1122.1 L1043.5,1121.0 L1044.4,1115.5 L1046.7,1092.8 L1049.2,1070.4 L1050.4,1056.3 L1054.0,1006.7 L1061.4,931.2 L1063.5,911.7 L1064.5,904.6 L1065.1,902.2 L1065.4,901.6 L1065.6,901.5 L1066.2,905.4 L1067.7,932.2 L1069.3,974.1 L1070.7,1004.7 L1071.6,1033.9 L1072.3,1071.4 L1072.9,1112.2 L1073.4,1185.0 L1074.6,1423.0"/>
</g>
<line x1="899.1" y1="306.4" x2="899.1" y2="1395" stroke="#a6a6a6" stroke-width="9.8" stroke-dasharray="36.4 25.5"/>
</g>
<g id="panel-b">
<path d="M1227.6,161.8 H2239.2 Q2241.8,161.8 2241.8,164.4 V1424.3 Q2241.8,1426.9 2239.2,1426.9 H1227.6 Q1225.0,1426.9 1225.0,1424.3 V164.4 Q1225.0,161.8 1227.6,161.8 Z M1234.0,170.9 V1417.2 H2232.1 V170.9 Z" fill="#000" fill-rule="evenodd"/>
<g stroke="#000" stroke-width="8.7" stroke-linecap="round"><line x1="1229.4" y1="1420" x2="1229.4" y2="1405.4" /><line x1="1397.4" y1="1420" x2="1397.4" y2="1405.4" /><line x1="1565.3" y1="1420" x2="1565.3" y2="1405.4" /><line x1="1733.2" y1="1420" x2="1733.2" y2="1405.4" /><line x1="1901.2" y1="1420" x2="1901.2" y2="1405.4" /><line x1="2069.1" y1="1420" x2="2069.1" y2="1405.4" /><line x1="2237.1" y1="1420" x2="2237.1" y2="1405.4" /><line x1="1313.4" y1="1420" x2="1313.4" y2="1413.4" /><line x1="1481.3" y1="1420" x2="1481.3" y2="1413.4" /><line x1="1649.3" y1="1420" x2="1649.3" y2="1413.4" /><line x1="1817.2" y1="1420" x2="1817.2" y2="1413.4" /><line x1="1985.2" y1="1420" x2="1985.2" y2="1413.4" /><line x1="2153.1" y1="1420" x2="2153.1" y2="1413.4" /></g>
<text y="829.80" fill="#000c84" stroke="#000c84" stroke-width="0.5" stroke-linejoin="round"><tspan x="1259.27" font-size="102.3" textLength="257.46" lengthAdjust="spacingAndGlyphs">PBAB</tspan><tspan x="1517.89" font-size="97.2" letter-spacing="-1.180">-aramid</tspan></text>
<g fill="none" stroke-width="9.6" stroke-linejoin="round" stroke-linecap="butt" clip-path="url(#clipB)">
<path stroke="#ff0000" d="M1225.0,713.6 L1226.0,712.9 L1227.0,714.6 L1228.0,712.9 L1229.0,714.7 L1230.0,712.9 L1231.0,714.5 L1232.0,713.3 L1232.9,714.9 L1233.9,713.2 L1234.9,714.7 L1235.9,712.9 L1236.9,714.9 L1237.9,713.1 L1238.9,715.0 L1239.9,713.3 L1240.9,714.9 L1241.9,713.4 L1242.9,715.3 L1243.9,713.5 L1244.9,715.4 L1245.9,713.5 L1246.9,715.1 L1247.9,713.5 L1248.9,715.4 L1249.9,713.8 L1250.9,715.2 L1251.9,713.6 L1252.9,715.5 L1253.9,713.8 L1254.9,715.8 L1255.8,713.9 L1256.8,715.9 L1257.8,714.1 L1258.8,715.9 L1259.8,714.2 L1260.8,716.1 L1261.8,714.0 L1262.8,715.8 L1263.8,714.5 L1264.8,715.9 L1265.8,714.1 L1266.8,716.1 L1267.8,714.4 L1268.8,716.1 L1269.8,714.5 L1270.8,716.2 L1271.8,714.7 L1272.8,716.4 L1273.8,714.6 L1274.8,716.6 L1275.8,714.6 L1276.7,716.7 L1277.7,714.6 L1278.7,716.7 L1279.7,714.7 L1280.7,716.3 L1281.7,714.7 L1282.7,716.8 L1283.7,714.7 L1284.7,716.6 L1285.7,714.8 L1286.7,716.5 L1287.7,714.8 L1288.6,716.7 L1289.6,715.1 L1290.6,716.5 L1291.6,714.8 L1292.6,717.0 L1293.6,715.3 L1294.6,716.9 L1295.6,715.1 L1296.6,716.6 L1297.6,715.2 L1298.6,717.0 L1299.5,715.0 L1300.5,716.7 L1301.5,715.1 L1302.5,716.7 L1303.5,715.1 L1304.5,716.9 L1305.5,715.1 L1306.5,717.2 L1307.5,715.3 L1308.5,717.3 L1309.5,715.4 L1310.4,716.9 L1311.4,715.3 L1312.4,716.9 L1313.4,715.6 L1314.4,717.1 L1315.4,715.4 L1316.4,717.0 L1317.4,715.7 L1318.4,717.4 L1319.4,715.6 L1320.4,717.5 L1321.4,715.4 L1322.3,717.2 L1323.3,715.6 L1324.3,717.4 L1325.3,715.6 L1326.3,717.4 L1327.3,715.6 L1328.3,717.4 L1329.3,715.4 L1330.3,717.4 L1331.3,715.7 L1332.3,717.5 L1333.2,715.8 L1334.2,717.3 L1335.2,715.4 L1336.2,717.4 L1337.2,715.6 L1338.2,717.1 L1339.2,715.7 L1340.2,717.4 L1341.2,715.9 L1342.2,717.4 L1343.2,715.6 L1344.2,717.2 L1345.1,715.6 L1346.1,717.3 L1347.1,715.5 L1348.1,717.2 L1349.1,715.4 L1350.1,717.3 L1351.1,715.7 L1352.1,716.9 L1353.1,715.3 L1354.0,717.3 L1355.0,715.5 L1356.0,717.0 L1357.0,715.2 L1358.0,716.9 L1359.0,715.3 L1360.0,716.8 L1361.0,715.2 L1362.0,716.9 L1362.9,715.2 L1363.9,716.7 L1364.9,714.9 L1365.9,716.5 L1366.9,714.9 L1367.9,716.7 L1368.9,715.0 L1369.9,716.4 L1370.9,714.7 L1371.8,716.4 L1372.8,714.9 L1373.8,716.4 L1374.8,714.6 L1375.8,716.1 L1376.8,714.6 L1377.8,716.1 L1378.7,714.3 L1379.7,716.1 L1380.7,714.1 L1381.7,715.8 L1382.7,714.3 L1383.7,715.9 L1384.6,713.9 L1385.6,715.7 L1386.6,714.1 L1387.6,715.4 L1388.6,713.8 L1389.6,715.3 L1390.5,713.6 L1391.5,715.5 L1392.5,713.7 L1393.5,715.1 L1394.6,713.2 L1395.7,715.0 L1396.8,712.9 L1397.9,714.6 L1399.0,712.9 L1400.1,714.0 L1401.2,712.0 L1402.4,713.2 L1403.6,711.2 L1404.5,712.1 L1405.3,709.8 L1406.6,709.8 L1407.7,706.2 L1408.5,706.3 L1409.2,702.7 L1410.6,696.7 L1411.3,688.0 L1411.8,677.6 L1412.2,665.0 L1414.9,551.6 L1416.1,531.4 L1416.6,526.7 L1417.1,525.0 L1417.4,526.5 L1417.7,530.9 L1418.7,553.7 L1421.6,645.0 L1422.7,673.2 L1424.2,693.2 L1424.5,695.8 L1425.7,699.2 L1426.4,702.6 L1426.7,701.7 L1427.0,701.6 L1427.7,700.1 L1428.5,700.9 L1429.4,697.6 L1430.0,699.0 L1430.8,697.6 L1431.9,700.9 L1433.0,700.1 L1434.2,702.5 L1435.3,700.4 L1436.4,700.9 L1437.6,698.4 L1438.3,699.5 L1439.5,698.4 L1440.4,701.0 L1441.3,700.1 L1442.2,702.6 L1443.3,701.4 L1444.4,703.3 L1445.5,701.2 L1446.6,703.2 L1447.6,701.0 L1448.7,702.6 L1449.7,700.9 L1450.8,702.2 L1451.8,700.3 L1452.9,701.4 L1453.8,699.3 L1454.8,700.6 L1455.8,698.5 L1456.7,699.7 L1457.7,697.0 L1458.6,698.1 L1459.6,695.9 L1460.5,697.0 L1461.5,694.5 L1462.5,695.5 L1463.5,692.9 L1464.5,693.6 L1465.6,691.2 L1466.6,692.3 L1467.6,689.8 L1468.6,690.7 L1469.6,687.8 L1470.6,689.1 L1471.7,686.2 L1472.7,687.0 L1473.7,684.7 L1474.7,685.9 L1475.7,683.3 L1476.7,683.8 L1477.7,681.5 L1478.8,682.0 L1479.9,679.1 L1481.0,679.7 L1482.0,676.6 L1483.1,677.0 L1484.1,674.5 L1485.2,674.6 L1486.2,672.0 L1487.3,672.1 L1488.3,669.2 L1489.4,669.9 L1490.5,666.9 L1491.6,667.0 L1492.8,663.6 L1493.9,663.4 L1494.8,660.4 L1495.7,660.6 L1496.5,657.3 L1497.3,657.4 L1498.1,654.3 L1499.4,652.0 L1500.3,646.1 L1501.3,643.1 L1502.3,636.8 L1503.4,634.6 L1504.5,629.3 L1505.6,626.8 L1506.6,621.2 L1507.6,618.9 L1508.7,612.9 L1509.8,609.3 L1510.9,602.1 L1511.9,598.8 L1512.8,591.9 L1515.3,575.5 L1518.7,547.0 L1519.8,537.2 L1521.4,518.6 L1523.3,505.9 L1524.7,493.4 L1528.0,471.5 L1528.7,469.7 L1529.7,465.9 L1531.2,466.1 L1531.9,463.8 L1532.6,465.3 L1533.3,463.8 L1534.0,466.0 L1535.4,466.4 L1536.7,472.4 L1537.7,475.9 L1538.7,482.4 L1539.7,482.3 L1540.6,485.6 L1541.4,485.3 L1542.2,489.0 L1543.2,488.9 L1544.2,492.7 L1544.7,493.3 L1545.2,498.1 L1546.2,502.5 L1548.4,523.9 L1549.7,539.4 L1551.2,562.6 L1553.0,581.9 L1556.1,606.9 L1557.4,615.1 L1558.2,620.1 L1559.0,622.7 L1560.0,628.4 L1560.9,630.5 L1561.9,636.5 L1563.0,637.7 L1564.0,642.9 L1565.1,644.3 L1566.1,648.7 L1567.1,649.6 L1568.2,653.5 L1569.3,654.3 L1570.3,657.3 L1571.3,657.3 L1572.5,660.6 L1573.6,661.0 L1574.6,663.5 L1575.6,663.0 L1576.6,665.9 L1577.9,665.5 L1579.1,668.1 L1580.1,666.9 L1581.1,669.1 L1582.2,667.6 L1583.2,669.9 L1584.2,668.1 L1585.1,670.5 L1586.1,668.9 L1587.1,670.9 L1588.0,669.7 L1589.0,671.9 L1589.9,670.5 L1590.8,672.5 L1591.8,671.2 L1592.7,673.5 L1594.1,672.0 L1595.0,673.3 L1596.0,671.5 L1596.9,673.2 L1597.8,671.2 L1598.8,672.4 L1599.7,670.7 L1600.7,672.1 L1601.6,670.0 L1602.6,671.5 L1603.7,669.8 L1604.7,671.2 L1605.8,669.4 L1606.8,670.8 L1607.9,669.1 L1608.9,670.4 L1609.7,668.2 L1610.6,669.8 L1612.0,666.9 L1612.9,667.7 L1613.7,665.1 L1614.6,665.9 L1615.5,662.9 L1616.5,663.6 L1617.4,660.8 L1618.3,661.1 L1619.3,657.7 L1620.3,658.0 L1621.2,655.3 L1622.3,655.1 L1623.3,651.2 L1624.4,651.3 L1625.5,647.8 L1626.5,647.8 L1627.5,643.9 L1628.5,643.0 L1629.3,639.1 L1630.2,638.1 L1631.4,630.7 L1632.5,624.6 L1634.0,603.3 L1636.5,554.7 L1637.8,540.1 L1638.8,534.2 L1639.1,532.8 L1639.4,532.3 L1640.0,533.2 L1640.6,535.6 L1642.4,547.1 L1644.8,571.3 L1646.4,584.7 L1647.8,594.6 L1648.8,600.4 L1649.7,603.8 L1650.7,610.9 L1651.5,612.2 L1652.2,617.1 L1653.0,618.2 L1653.9,622.9 L1654.9,624.1 L1656.0,628.8 L1657.0,630.5 L1658.1,635.0 L1659.1,636.2 L1660.2,640.5 L1661.2,641.6 L1662.3,645.5 L1663.5,646.4 L1664.6,650.5 L1665.6,650.6 L1666.5,654.0 L1667.5,653.7 L1668.4,657.1 L1669.4,657.1 L1670.3,660.2 L1671.3,659.4 L1672.4,661.9 L1673.5,660.7 L1674.6,662.9 L1675.7,661.3 L1676.6,663.3 L1677.5,661.7 L1678.3,663.7 L1679.5,661.2 L1680.6,661.8 L1681.8,659.1 L1682.9,659.4 L1683.9,656.2 L1684.8,656.8 L1685.8,652.8 L1686.7,652.6 L1687.7,649.2 L1688.7,647.9 L1689.7,643.7 L1690.6,642.0 L1691.6,636.7 L1692.5,635.5 L1693.6,629.0 L1694.6,626.0 L1695.6,619.1 L1696.5,615.4 L1698.1,602.9 L1699.8,584.9 L1703.7,526.5 L1704.2,513.2 L1704.6,487.4 L1705.4,471.1 L1706.5,439.9 L1707.1,427.5 L1709.6,393.9 L1709.9,391.8 L1710.6,387.9 L1711.1,387.5 L1711.6,386.9 L1711.9,387.3 L1712.2,388.3 L1712.8,392.5 L1714.6,408.8 L1717.4,453.0 L1719.2,488.9 L1721.9,529.2 L1724.0,569.5 L1728.4,635.2 L1729.7,650.6 L1730.8,660.5 L1732.5,670.7 L1733.5,674.6 L1734.6,680.8 L1735.4,681.9 L1736.2,686.4 L1737.1,687.6 L1738.0,691.8 L1738.9,692.6 L1739.9,696.4 L1740.8,696.6 L1741.7,700.1 L1742.7,700.4 L1743.7,703.5 L1744.8,703.0 L1745.8,706.3 L1746.8,705.7 L1747.8,708.3 L1748.7,707.9 L1749.7,710.6 L1750.8,709.8 L1751.8,712.3 L1752.9,711.0 L1753.9,713.5 L1754.8,712.3 L1755.7,714.7 L1756.7,713.4 L1757.6,715.9 L1758.5,714.6 L1759.6,716.8 L1760.6,715.3 L1761.7,717.7 L1762.8,716.4 L1763.8,718.5 L1764.7,716.7 L1765.7,719.0 L1766.6,717.5 L1767.5,719.3 L1768.4,718.0 L1769.4,719.9 L1770.4,718.3 L1771.4,720.4 L1772.4,718.8 L1773.4,720.6 L1774.4,719.2 L1775.4,721.3 L1776.4,719.9 L1777.5,721.6 L1778.6,719.7 L1779.6,721.4 L1780.7,719.7 L1781.7,721.4 L1782.7,719.9 L1783.7,721.6 L1784.7,719.7 L1785.7,721.4 L1786.7,719.6 L1787.7,721.3 L1788.7,719.7 L1789.7,721.1 L1790.6,719.7 L1791.6,721.2 L1792.5,719.1 L1793.5,720.9 L1794.4,718.9 L1795.4,720.5 L1796.3,718.8 L1797.3,720.2 L1798.2,718.2 L1799.2,719.7 L1800.0,717.9 L1800.9,719.2 L1801.8,717.2 L1802.8,718.4 L1803.8,716.4 L1804.8,717.4 L1805.9,715.0 L1806.9,716.2 L1807.9,713.8 L1808.9,714.9 L1809.9,712.4 L1810.9,713.0 L1811.9,710.7 L1812.8,711.1 L1813.7,708.5 L1814.7,709.5 L1815.9,706.2 L1817.1,706.0 L1818.3,702.7 L1819.4,702.7 L1820.4,698.7 L1821.4,698.7 L1822.9,693.1 L1824.4,690.0 L1825.4,684.2 L1826.5,681.3 L1827.6,673.3 L1828.7,668.7 L1832.8,639.8 L1833.8,634.1 L1834.8,630.4 L1835.8,624.7 L1836.8,622.3 L1838.0,617.6 L1839.2,616.5 L1840.3,611.3 L1841.3,609.2 L1842.2,602.6 L1843.5,592.1 L1847.7,527.6 L1849.1,511.3 L1849.9,504.3 L1850.6,500.8 L1851.5,495.9 L1852.3,494.8 L1853.0,491.2 L1853.6,492.4 L1854.1,492.8 L1854.7,496.3 L1856.7,515.5 L1860.7,573.1 L1867.4,639.9 L1869.4,655.6 L1870.3,659.6 L1871.2,666.5 L1872.1,669.7 L1873.0,675.9 L1873.9,677.0 L1874.7,680.0 L1875.5,679.0 L1876.4,681.8 L1877.2,681.7 L1878.8,692.2 L1880.2,697.0 L1881.5,698.2 L1882.6,701.2 L1883.8,700.9 L1884.7,702.8 L1885.7,701.5 L1886.6,703.7 L1887.5,702.5 L1888.4,705.0 L1889.4,703.6 L1890.3,706.0 L1891.3,705.1 L1892.3,707.8 L1893.2,707.1 L1894.1,709.4 L1895.1,709.3 L1896.2,712.0 L1897.2,711.9 L1898.5,715.0 L1899.3,713.5 L1900.2,715.6 L1901.1,713.8 L1902.1,715.6 L1903.0,714.1 L1904.0,716.3 L1904.9,714.6 L1905.8,716.9 L1906.7,715.4 L1907.5,717.7 L1908.6,716.7 L1909.7,719.5 L1910.8,718.2 L1911.7,720.5 L1912.5,719.1 L1913.5,721.2 L1914.5,720.0 L1915.5,721.6 L1916.4,720.6 L1917.4,722.2 L1918.4,721.1 L1919.4,723.0 L1920.4,721.5 L1921.4,723.7 L1922.5,722.5 L1923.5,724.6 L1924.6,723.4 L1925.6,725.4 L1926.7,724.0 L1927.7,726.2 L1928.7,725.0 L1929.6,727.0 L1930.6,725.3 L1931.5,727.3 L1932.5,726.1 L1933.5,728.0 L1934.6,726.5 L1935.7,728.3 L1936.7,727.3 L1937.7,728.7 L1938.6,727.2 L1939.6,729.0 L1940.5,727.7 L1941.5,729.3 L1942.5,728.0 L1943.4,729.5 L1944.4,728.1 L1945.4,729.7 L1946.4,728.5 L1947.3,729.9 L1948.3,728.6 L1949.3,730.3 L1950.3,728.9 L1951.2,730.2 L1952.2,728.9 L1953.2,730.6 L1954.2,729.0 L1955.1,730.6 L1956.1,729.3 L1957.1,731.0 L1958.1,729.7 L1959.1,731.4 L1960.1,729.6 L1961.1,730.9 L1962.1,729.4 L1963.1,730.9 L1964.2,729.3 L1965.2,731.0 L1966.2,729.5 L1967.2,730.8 L1968.2,729.2 L1969.3,730.9 L1970.3,729.1 L1971.3,731.0 L1972.3,729.0 L1973.3,730.9 L1974.4,729.5 L1975.4,731.0 L1976.4,729.3 L1977.4,731.3 L1978.5,729.7 L1979.5,731.2 L1980.5,729.6 L1981.5,731.7 L1982.5,729.8 L1983.6,731.4 L1984.6,730.2 L1985.7,731.5 L1986.7,730.1 L1987.8,731.5 L1988.9,730.2 L1990.0,731.8 L1991.0,729.8 L1992.0,731.5 L1993.0,729.7 L1994.0,731.6 L1995.0,729.7 L1996.1,731.7 L1997.1,729.5 L1998.1,731.2 L1999.1,729.8 L2000.1,731.4 L2001.1,729.4 L2002.2,731.1 L2003.2,729.6 L2004.1,731.3 L2005.1,729.5 L2006.1,730.9 L2007.0,729.2 L2008.0,730.9 L2009.0,728.8 L2009.9,730.4 L2010.9,728.7 L2011.9,730.5 L2012.8,728.4 L2013.8,730.2 L2014.8,728.3 L2015.8,730.1 L2016.7,728.5 L2017.7,730.1 L2018.7,728.3 L2019.7,730.2 L2020.7,728.6 L2021.7,730.0 L2022.7,728.4 L2023.7,730.2 L2024.6,728.4 L2025.6,730.3 L2026.5,728.9 L2027.4,730.9 L2028.3,729.8 L2029.2,731.9 L2030.2,731.0 L2031.1,733.1 L2032.0,731.5 L2033.0,733.1 L2034.0,731.7 L2034.9,733.4 L2035.9,731.5 L2036.9,733.5 L2037.8,731.4 L2038.8,733.3 L2039.8,731.4 L2040.8,733.4 L2041.7,731.7 L2042.7,733.2 L2043.7,731.8 L2044.6,733.2 L2045.6,731.4 L2046.6,733.1 L2047.4,731.3 L2048.3,732.7 L2049.3,730.7 L2050.3,731.7 L2051.4,729.4 L2052.4,730.1 L2053.5,728.4 L2054.6,729.7 L2055.7,727.6 L2056.6,728.9 L2057.6,727.5 L2058.4,729.6 L2059.2,728.0 L2060.3,730.4 L2061.5,729.5 L2062.6,732.1 L2063.8,730.8 L2064.9,732.9 L2065.9,731.3 L2066.9,733.1 L2068.0,731.9 L2069.0,733.5 L2069.9,731.9 L2070.9,733.7 L2071.8,732.5 L2072.8,734.3 L2073.8,732.5 L2074.8,734.3 L2075.8,732.6 L2076.8,734.1 L2077.9,732.5 L2078.9,734.2 L2079.9,732.3 L2080.9,734.1 L2081.9,732.2 L2083.0,734.3 L2084.0,732.4 L2085.0,734.1 L2086.0,732.4 L2087.0,733.9 L2088.1,732.2 L2089.1,734.1 L2090.1,732.2 L2091.1,733.9 L2092.1,732.3 L2093.2,734.0 L2094.2,732.2 L2095.2,733.9 L2096.2,732.4 L2097.2,734.1 L2098.7,732.3 L2099.7,733.6 L2100.7,731.5 L2101.6,733.0 L2102.6,731.0 L2103.6,732.7 L2104.6,731.0 L2105.4,732.6 L2106.3,731.2 L2107.1,733.5 L2108.0,732.4 L2109.3,734.2 L2110.3,732.8 L2111.3,734.3 L2112.3,732.5 L2113.3,734.6 L2114.3,732.6 L2115.3,734.7 L2116.3,732.7 L2117.3,734.7 L2118.3,732.8 L2119.3,734.5 L2120.3,732.6 L2121.3,734.8 L2122.3,732.6 L2123.3,734.6 L2124.3,732.8 L2125.4,734.6 L2126.4,732.7 L2127.4,734.8 L2128.4,733.0 L2129.4,734.9 L2130.4,733.1 L2131.4,734.5 L2132.4,732.9 L2133.4,734.6 L2134.4,733.0 L2135.4,734.8 L2136.4,733.3 L2137.4,734.9 L2138.4,733.2 L2139.4,734.8 L2140.4,733.2 L2141.4,734.9 L2142.4,733.0 L2143.4,734.7 L2144.4,733.4 L2145.4,734.8 L2146.4,733.2 L2147.5,734.7 L2148.5,733.4 L2149.5,735.1 L2150.5,733.1 L2151.5,735.2 L2152.5,733.0 L2153.5,735.2 L2154.5,733.4 L2155.5,734.8 L2156.5,733.4 L2157.5,735.0 L2158.5,733.3 L2159.5,735.1 L2160.5,733.4 L2161.5,735.3 L2162.5,733.5 L2163.5,735.1 L2164.5,733.2 L2165.5,735.3 L2166.5,733.6 L2167.5,735.1 L2168.5,733.3 L2169.6,735.0 L2170.6,733.7 L2171.6,735.2 L2172.6,733.5 L2173.6,735.1 L2174.6,733.8 L2175.6,735.1 L2176.6,733.5 L2177.6,735.3 L2178.6,733.4 L2179.6,735.5 L2180.6,733.4 L2181.6,735.1 L2182.6,733.7 L2183.6,735.0 L2184.6,733.6 L2185.6,735.2 L2186.6,733.7 L2187.5,735.2 L2188.5,733.7 L2189.5,735.1 L2190.5,733.6 L2191.5,735.3 L2192.5,733.5 L2193.5,735.0 L2194.5,733.6 L2195.5,735.1 L2196.5,733.3 L2197.5,735.2 L2198.5,733.1 L2199.5,735.2 L2200.5,733.4 L2201.5,734.8 L2202.4,733.1 L2203.4,735.0 L2204.4,733.2 L2205.4,735.0 L2206.4,733.1 L2207.4,734.7 L2208.4,733.2 L2209.4,734.5 L2210.3,732.9 L2211.3,734.9 L2212.3,732.7 L2213.3,734.6 L2214.3,732.8 L2215.3,734.7 L2216.4,732.6 L2217.4,734.4 L2218.5,732.6 L2219.5,734.2 L2220.5,732.6 L2221.6,733.9 L2222.6,732.2 L2223.6,734.1 L2224.6,732.0 L2225.6,733.5 L2226.5,731.7 L2227.5,733.2 L2228.5,731.2 L2229.5,732.8 L2230.5,731.0 L2231.6,732.8 L2232.6,731.4 L2233.7,733.1 L2234.7,731.5 L2235.8,733.4 L2236.8,731.4 L2237.8,733.5 L2238.7,731.5 L2239.7,733.1 L2240.6,731.5 L2241.6,733.3 L2242.5,731.6"/>
<path stroke="#0000a0" d="M1225.0,1354.6 L1226.0,1354.1 L1227.1,1355.4 L1228.2,1354.1 L1229.2,1355.6 L1230.3,1354.4 L1231.4,1355.8 L1232.4,1354.2 L1233.4,1356.2 L1234.5,1354.5 L1235.5,1356.1 L1236.5,1354.8 L1237.5,1356.3 L1238.5,1355.1 L1239.5,1356.4 L1240.5,1355.3 L1241.6,1357.0 L1242.6,1355.2 L1243.6,1357.1 L1244.6,1355.4 L1245.6,1357.1 L1246.6,1355.8 L1247.6,1357.5 L1248.7,1355.8 L1249.7,1357.7 L1250.7,1356.0 L1251.7,1357.6 L1252.7,1356.3 L1253.7,1358.0 L1254.7,1356.4 L1255.8,1357.9 L1256.8,1356.5 L1257.8,1357.9 L1258.8,1356.4 L1259.8,1358.3 L1260.9,1356.7 L1261.9,1358.2 L1262.9,1356.6 L1263.9,1358.4 L1264.9,1356.7 L1266.0,1358.6 L1267.0,1356.9 L1268.0,1358.5 L1269.0,1357.0 L1270.0,1358.6 L1271.0,1357.3 L1272.0,1358.6 L1273.0,1357.0 L1274.0,1358.5 L1275.0,1357.4 L1276.0,1358.8 L1277.0,1357.4 L1278.0,1358.8 L1279.0,1357.3 L1280.0,1358.8 L1281.0,1357.1 L1282.0,1358.8 L1282.9,1357.4 L1283.9,1358.8 L1284.9,1357.4 L1285.9,1358.9 L1286.9,1357.6 L1287.9,1359.2 L1288.9,1357.6 L1289.9,1359.2 L1290.9,1357.4 L1291.9,1359.0 L1292.9,1357.8 L1293.9,1359.1 L1294.9,1357.5 L1295.9,1359.3 L1296.9,1357.8 L1297.9,1359.2 L1298.9,1357.8 L1299.9,1359.2 L1300.9,1357.9 L1301.9,1359.4 L1302.9,1357.6 L1303.9,1359.5 L1304.9,1357.7 L1305.9,1359.5 L1306.9,1358.0 L1307.8,1359.3 L1308.8,1357.6 L1309.8,1359.5 L1310.8,1357.9 L1311.8,1359.6 L1312.8,1357.8 L1313.8,1359.6 L1314.8,1358.0 L1315.8,1359.3 L1316.8,1357.9 L1317.8,1359.3 L1318.8,1358.0 L1319.8,1359.7 L1320.8,1358.0 L1321.8,1359.3 L1322.8,1358.2 L1323.8,1359.4 L1324.8,1357.9 L1325.8,1359.5 L1326.8,1358.1 L1327.8,1359.4 L1328.8,1357.8 L1329.8,1359.6 L1330.8,1358.2 L1331.8,1359.4 L1332.8,1358.3 L1333.8,1359.5 L1334.8,1358.0 L1335.8,1359.5 L1336.8,1358.3 L1337.8,1359.7 L1338.8,1358.3 L1339.8,1359.9 L1340.8,1358.3 L1341.8,1359.8 L1342.8,1358.1 L1343.8,1359.7 L1344.8,1358.0 L1345.8,1359.8 L1346.8,1358.4 L1347.8,1359.8 L1348.8,1358.5 L1349.8,1359.8 L1350.8,1358.4 L1351.8,1360.0 L1352.8,1358.2 L1353.8,1359.9 L1354.8,1358.5 L1355.8,1359.8 L1356.8,1358.4 L1357.8,1359.7 L1358.8,1358.3 L1359.8,1359.9 L1360.8,1358.3 L1361.7,1359.5 L1362.7,1357.9 L1363.7,1359.7 L1364.7,1357.8 L1365.7,1359.5 L1366.7,1357.8 L1367.7,1359.6 L1368.7,1357.8 L1369.7,1359.5 L1370.7,1357.8 L1371.7,1359.1 L1372.8,1357.8 L1373.8,1359.4 L1374.8,1357.4 L1375.8,1359.3 L1376.8,1357.6 L1377.8,1359.1 L1378.8,1357.3 L1379.8,1359.0 L1380.9,1357.1 L1381.9,1358.8 L1382.9,1357.1 L1383.9,1358.8 L1384.9,1357.2 L1385.9,1358.8 L1386.9,1356.8 L1387.9,1358.3 L1389.0,1356.6 L1390.0,1358.5 L1391.0,1356.6 L1392.0,1358.0 L1393.0,1356.4 L1394.0,1357.9 L1395.0,1356.2 L1396.0,1358.0 L1397.0,1356.5 L1398.0,1357.6 L1399.1,1356.0 L1400.1,1357.6 L1401.1,1355.8 L1402.1,1357.6 L1403.1,1355.9 L1404.1,1357.1 L1405.1,1355.4 L1406.1,1356.9 L1407.0,1355.3 L1408.0,1356.7 L1409.0,1355.1 L1410.0,1356.8 L1410.9,1354.9 L1411.9,1356.5 L1412.9,1354.7 L1413.9,1356.2 L1414.8,1354.6 L1415.8,1356.1 L1416.8,1354.3 L1417.8,1356.0 L1418.7,1354.2 L1419.7,1355.7 L1420.7,1354.2 L1421.7,1355.2 L1422.7,1353.7 L1423.6,1355.1 L1424.6,1353.3 L1425.6,1354.9 L1426.6,1353.4 L1427.5,1354.6 L1428.5,1352.8 L1429.5,1354.3 L1430.5,1352.8 L1431.4,1354.1 L1432.4,1352.1 L1433.4,1353.4 L1434.3,1351.9 L1435.3,1353.2 L1436.3,1351.4 L1437.2,1352.9 L1438.2,1351.3 L1439.2,1352.5 L1440.2,1350.5 L1441.2,1351.8 L1442.2,1350.4 L1443.2,1351.6 L1444.2,1349.6 L1445.2,1351.0 L1446.2,1349.3 L1447.2,1350.7 L1448.2,1348.6 L1449.1,1349.8 L1450.1,1348.0 L1451.1,1349.3 L1452.0,1347.7 L1453.0,1349.0 L1454.0,1347.1 L1454.9,1348.4 L1455.9,1346.6 L1456.9,1347.9 L1457.8,1346.1 L1458.8,1347.0 L1459.8,1345.3 L1460.7,1346.5 L1461.8,1344.6 L1462.9,1346.0 L1463.9,1343.7 L1465.0,1344.7 L1466.0,1343.1 L1467.1,1344.2 L1468.1,1342.2 L1469.3,1343.3 L1470.4,1341.1 L1471.5,1341.8 L1472.5,1340.0 L1473.5,1341.1 L1474.4,1338.8 L1475.3,1339.8 L1476.2,1337.3 L1477.1,1338.5 L1478.0,1336.1 L1479.1,1336.8 L1480.1,1334.3 L1481.2,1335.0 L1482.2,1332.1 L1483.3,1332.7 L1484.3,1329.9 L1485.2,1330.3 L1486.0,1327.2 L1486.9,1327.7 L1487.8,1324.9 L1488.6,1325.4 L1489.4,1323.0 L1490.5,1323.7 L1491.7,1321.1 L1492.7,1321.9 L1493.8,1320.0 L1494.8,1320.5 L1495.8,1318.3 L1496.8,1319.1 L1497.9,1316.8 L1498.9,1317.8 L1499.9,1315.5 L1500.8,1316.3 L1501.6,1314.0 L1502.5,1314.6 L1503.5,1311.8 L1504.5,1312.0 L1505.5,1308.6 L1506.5,1308.2 L1507.6,1304.7 L1508.6,1304.3 L1509.6,1301.1 L1510.5,1300.5 L1511.3,1297.2 L1512.7,1295.5 L1513.5,1291.2 L1514.3,1290.5 L1515.5,1283.4 L1517.2,1271.1 L1518.3,1268.2 L1519.6,1264.3 L1520.8,1263.4 L1521.5,1259.6 L1522.3,1259.2 L1523.3,1253.8 L1524.3,1252.1 L1525.2,1246.9 L1526.7,1241.3 L1527.7,1233.7 L1530.3,1207.4 L1534.1,1176.6 L1536.3,1162.7 L1537.0,1159.2 L1537.9,1159.5 L1538.8,1156.3 L1539.6,1157.1 L1540.4,1154.6 L1541.4,1155.7 L1542.1,1153.8 L1542.4,1154.8 L1542.8,1155.6 L1543.4,1159.2 L1545.6,1172.6 L1549.8,1215.7 L1552.1,1236.8 L1553.8,1249.1 L1555.0,1254.6 L1556.2,1262.9 L1557.3,1266.3 L1558.5,1272.7 L1559.7,1276.4 L1560.7,1281.5 L1561.7,1283.3 L1562.7,1288.9 L1563.6,1290.3 L1564.6,1294.8 L1565.4,1295.2 L1566.2,1298.8 L1567.2,1299.4 L1568.2,1302.7 L1569.1,1303.1 L1570.0,1306.1 L1570.9,1306.1 L1571.8,1309.3 L1572.7,1309.4 L1573.8,1312.7 L1575.0,1311.8 L1576.1,1313.2 L1577.2,1312.0 L1578.3,1313.6 L1579.5,1311.6 L1580.4,1312.8 L1581.1,1309.7 L1581.9,1309.9 L1582.5,1308.0 L1583.1,1309.2 L1583.8,1308.2 L1584.7,1310.7 L1585.5,1309.7 L1586.6,1313.2 L1587.7,1313.3 L1588.6,1316.9 L1589.5,1317.9 L1590.7,1324.1 L1590.8,1323.3 L1591.3,1323.5 L1592.2,1323.0 L1593.2,1324.8 L1594.2,1323.2 L1595.3,1324.8 L1596.3,1323.0 L1597.4,1324.7 L1598.7,1322.7 L1599.7,1323.4 L1600.8,1321.6 L1601.8,1322.1 L1602.8,1320.2 L1603.9,1320.9 L1604.9,1319.0 L1606.1,1320.2 L1607.0,1318.5 L1608.0,1320.5 L1609.1,1319.1 L1610.0,1321.5 L1610.9,1320.4 L1611.9,1322.9 L1612.9,1322.1 L1613.9,1325.1 L1614.9,1324.6 L1616.2,1327.4 L1617.2,1325.8 L1618.2,1327.7 L1619.2,1326.4 L1620.1,1328.0 L1621.5,1326.5 L1622.8,1328.1 L1623.7,1326.4 L1624.6,1327.3 L1625.7,1325.2 L1626.7,1326.3 L1627.8,1324.5 L1628.8,1325.6 L1629.9,1323.3 L1630.9,1324.4 L1632.0,1322.5 L1633.0,1323.5 L1634.2,1321.4 L1635.5,1322.1 L1636.5,1319.7 L1637.5,1320.3 L1638.4,1317.7 L1639.3,1317.9 L1640.2,1315.3 L1641.1,1316.1 L1642.2,1312.6 L1643.3,1312.2 L1644.5,1308.7 L1645.6,1308.4 L1646.6,1305.5 L1647.5,1305.6 L1648.5,1302.2 L1649.5,1302.6 L1650.5,1299.4 L1651.5,1299.9 L1652.5,1296.7 L1653.5,1296.9 L1654.4,1293.6 L1655.3,1294.5 L1656.0,1292.5 L1656.8,1293.4 L1658.0,1291.0 L1658.9,1292.5 L1660.0,1291.4 L1660.9,1294.0 L1661.8,1293.1 L1662.6,1295.4 L1663.6,1294.6 L1664.5,1296.8 L1665.5,1295.8 L1666.3,1298.0 L1667.2,1296.9 L1668.1,1298.7 L1669.1,1297.2 L1670.0,1298.9 L1671.0,1297.9 L1671.9,1301.6 L1672.9,1301.5 L1673.8,1305.2 L1675.1,1304.8 L1676.0,1307.3 L1676.9,1306.4 L1677.8,1308.8 L1679.2,1308.8 L1680.5,1313.0 L1681.6,1314.0 L1682.6,1317.7 L1683.7,1318.3 L1684.7,1322.1 L1685.8,1322.8 L1686.8,1326.5 L1687.9,1326.8 L1688.8,1329.0 L1689.7,1328.4 L1690.6,1331.2 L1691.8,1330.2 L1692.9,1332.2 L1693.8,1330.8 L1694.7,1333.0 L1695.6,1331.5 L1696.7,1332.9 L1697.9,1331.5 L1698.9,1333.1 L1700.0,1331.3 L1701.0,1332.5 L1701.9,1330.7 L1702.8,1331.8 L1704.1,1329.7 L1705.5,1328.7 L1706.3,1325.2 L1707.1,1324.7 L1708.0,1319.1 L1708.8,1317.0 L1709.4,1314.3 L1710.7,1312.7 L1711.7,1313.7 L1712.6,1311.8 L1713.5,1312.8 L1714.4,1311.1 L1715.3,1312.5 L1716.2,1309.8 L1716.7,1309.8 L1717.6,1306.8 L1718.8,1297.7 L1719.5,1291.3 L1720.1,1283.0 L1720.6,1269.0 L1724.1,1131.1 L1724.4,1099.9 L1724.7,1032.5 L1726.3,958.5 L1726.6,965.5 L1727.3,1002.0 L1728.0,1018.9 L1728.3,1033.9 L1728.5,1050.8 L1728.7,1168.0 L1729.0,1186.7 L1730.3,1231.0 L1732.2,1267.8 L1732.7,1273.9 L1733.9,1282.4 L1734.4,1284.7 L1734.9,1286.1 L1735.3,1286.3 L1735.8,1285.5 L1736.8,1280.4 L1737.9,1272.8 L1738.4,1261.7 L1739.1,1241.1 L1739.6,1205.7 L1740.7,1098.2 L1742.3,998.7 L1743.4,850.2 L1743.8,821.4 L1744.2,850.2 L1745.3,997.9 L1745.9,1039.2 L1746.2,1115.9 L1746.9,1149.2 L1747.9,1240.6 L1748.5,1264.9 L1749.5,1285.7 L1750.5,1301.9 L1752.1,1319.0 L1753.2,1327.8 L1754.0,1331.6 L1754.8,1332.7 L1756.3,1337.7 L1757.3,1337.0 L1758.2,1338.6 L1759.1,1337.7 L1760.1,1339.5 L1761.1,1338.3 L1762.5,1347.8 L1764.0,1348.5 L1765.3,1351.4 L1766.3,1350.6 L1767.2,1353.1 L1768.2,1352.2 L1769.2,1354.5 L1770.2,1353.7 L1771.1,1355.9 L1772.1,1355.3 L1773.1,1357.3 L1774.2,1356.5 L1775.3,1358.8 L1776.4,1357.7 L1777.5,1359.8 L1778.5,1358.7 L1779.6,1360.7 L1780.6,1359.4 L1781.6,1361.0 L1782.6,1360.0 L1783.5,1361.8 L1784.5,1360.2 L1785.4,1362.2 L1786.4,1360.6 L1787.3,1362.2 L1788.3,1361.0 L1789.2,1362.6 L1790.2,1361.0 L1791.1,1362.7 L1792.1,1361.6 L1793.1,1363.3 L1794.0,1361.9 L1795.0,1363.6 L1796.1,1362.0 L1797.1,1363.5 L1798.2,1361.9 L1799.2,1363.8 L1800.2,1362.4 L1801.3,1364.0 L1802.3,1362.5 L1803.3,1364.1 L1804.4,1362.7 L1805.4,1364.2 L1806.4,1362.8 L1807.5,1364.1 L1808.4,1362.9 L1809.4,1364.2 L1810.4,1362.8 L1811.4,1364.6 L1812.4,1362.8 L1813.3,1364.3 L1814.2,1362.4 L1815.1,1363.8 L1816.4,1361.9 L1817.3,1362.9 L1818.3,1360.2 L1819.2,1361.4 L1819.9,1357.0 L1820.7,1354.0 L1821.5,1347.8 L1822.2,1347.0 L1823.1,1343.8 L1824.2,1344.4 L1825.0,1342.3 L1825.7,1343.4 L1826.4,1342.6 L1827.3,1345.5 L1828.3,1346.5 L1829.4,1350.7 L1830.4,1352.1 L1831.4,1356.5 L1832.2,1356.2 L1833.3,1359.1 L1834.4,1358.8 L1835.5,1360.7 L1836.5,1360.2 L1837.6,1361.8 L1838.6,1360.7 L1839.5,1362.1 L1840.3,1360.5 L1841.2,1361.7 L1842.1,1360.0 L1843.0,1361.3 L1843.9,1358.9 L1844.8,1360.0 L1845.8,1358.2 L1846.7,1359.3 L1847.9,1356.7 L1849.1,1356.8 L1850.4,1354.2 L1851.6,1354.3 L1852.9,1350.6 L1854.2,1349.6 L1855.2,1345.3 L1856.1,1344.1 L1857.1,1340.3 L1858.1,1339.3 L1859.1,1335.2 L1860.0,1334.0 L1861.0,1331.2 L1862.4,1331.0 L1863.2,1329.0 L1863.9,1330.2 L1864.7,1329.2 L1865.5,1331.3 L1866.3,1331.5 L1867.2,1335.0 L1868.1,1335.0 L1869.1,1339.4 L1870.1,1341.2 L1871.1,1345.8 L1872.3,1346.6 L1873.5,1350.8 L1874.6,1350.8 L1875.6,1354.3 L1876.4,1353.7 L1877.2,1355.7 L1878.3,1354.4 L1879.4,1356.5 L1880.5,1355.2 L1881.6,1356.8 L1882.7,1355.6 L1883.8,1357.4 L1885.2,1355.6 L1886.1,1356.4 L1887.0,1354.8 L1887.9,1355.7 L1889.3,1354.1 L1890.3,1356.0 L1891.4,1354.9 L1892.4,1356.8 L1893.8,1355.8 L1895.0,1356.9 L1896.0,1354.4 L1897.0,1355.3 L1897.9,1352.5 L1899.1,1353.9 L1900.5,1353.5 L1901.7,1356.6 L1902.9,1356.6 L1903.6,1359.3 L1904.4,1359.7 L1905.1,1363.2 L1906.0,1363.2 L1907.0,1364.5 L1908.0,1363.0 L1909.0,1364.8 L1910.0,1363.0 L1911.1,1364.6 L1912.1,1363.1 L1912.5,1363.6 L1913.1,1362.2 L1914.1,1358.7 L1915.2,1353.0 L1916.1,1351.9 L1917.3,1348.6 L1918.5,1348.8 L1919.6,1346.6 L1920.6,1348.3 L1921.7,1347.8 L1922.8,1351.4 L1923.8,1352.0 L1924.8,1356.3 L1925.7,1358.0 L1926.7,1362.8 L1927.6,1362.4 L1928.6,1365.0 L1929.5,1364.4 L1930.5,1366.9 L1931.5,1365.6 L1932.5,1368.1 L1933.3,1366.5 L1934.1,1368.0 L1935.3,1366.1 L1936.2,1366.7 L1937.2,1364.2 L1938.1,1365.3 L1939.0,1363.0 L1939.9,1363.9 L1941.2,1362.7 L1942.5,1364.6 L1943.7,1364.4 L1944.5,1367.8 L1945.3,1368.0 L1945.3,1370.5 L1946.3,1371.7 L1947.3,1370.1 L1948.3,1371.9 L1949.3,1370.6 L1950.3,1372.7 L1951.3,1370.8 L1952.3,1372.6 L1953.3,1371.6 L1954.3,1372.9 L1955.3,1371.6 L1956.3,1373.2 L1957.3,1371.9 L1958.3,1373.4 L1959.3,1371.8 L1960.3,1373.5 L1961.3,1371.9 L1962.2,1373.6 L1963.2,1371.9 L1964.2,1373.4 L1965.2,1372.1 L1966.2,1373.5 L1967.2,1372.4 L1968.2,1373.9 L1969.2,1372.4 L1970.2,1373.8 L1971.2,1372.5 L1972.2,1374.1 L1973.2,1372.7 L1974.2,1374.2 L1975.2,1372.9 L1976.2,1374.5 L1977.2,1373.0 L1978.2,1374.6 L1979.1,1372.9 L1980.1,1374.5 L1981.1,1373.2 L1982.1,1374.6 L1983.1,1373.1 L1984.1,1374.9 L1985.1,1373.3 L1986.2,1374.8 L1987.2,1373.4 L1988.2,1374.9 L1989.3,1373.6 L1990.3,1375.2 L1991.3,1373.6 L1992.4,1375.3 L1993.4,1373.7 L1994.5,1375.2 L1995.5,1373.7 L1996.5,1375.6 L1997.6,1373.8 L1998.6,1375.7 L1999.6,1374.0 L2000.6,1375.4 L2001.6,1374.1 L2002.6,1375.5 L2003.6,1374.1 L2004.6,1375.5 L2005.6,1374.2 L2006.6,1375.6 L2007.6,1374.2 L2008.6,1375.6 L2009.6,1374.0 L2010.6,1375.6 L2011.6,1373.9 L2012.6,1375.8 L2013.6,1374.2 L2014.6,1375.9 L2015.6,1374.3 L2016.7,1375.5 L2017.7,1374.0 L2018.7,1375.5 L2019.7,1374.4 L2020.7,1375.9 L2021.7,1374.5 L2022.7,1375.9 L2023.7,1374.2 L2024.7,1375.7 L2025.7,1374.4 L2026.7,1376.1 L2027.7,1374.4 L2028.7,1375.8 L2029.7,1374.4 L2030.7,1376.0 L2031.7,1374.5 L2032.7,1375.7 L2033.7,1374.3 L2034.7,1375.8 L2035.8,1374.6 L2036.8,1375.8 L2037.8,1374.2 L2038.8,1376.0 L2039.8,1374.3 L2040.8,1376.0 L2041.8,1374.2 L2042.8,1375.9 L2043.8,1374.5 L2044.8,1376.1 L2045.8,1374.7 L2046.8,1376.0 L2047.8,1374.4 L2048.8,1376.1 L2049.8,1374.5 L2050.8,1376.2 L2051.8,1374.5 L2052.8,1376.1 L2053.8,1374.5 L2054.8,1375.9 L2055.8,1374.6 L2056.8,1375.9 L2057.8,1374.7 L2058.8,1376.0 L2059.8,1374.7 L2060.8,1376.1 L2061.8,1374.4 L2062.8,1376.2 L2063.8,1374.4 L2064.8,1376.0 L2065.8,1374.5 L2066.8,1376.3 L2067.8,1374.6 L2068.8,1376.3 L2069.8,1374.7 L2070.8,1376.3 L2071.8,1374.4 L2072.8,1376.3 L2073.8,1374.4 L2074.8,1376.2 L2075.8,1374.6 L2076.8,1376.2 L2077.8,1374.4 L2078.8,1376.2 L2079.8,1374.5 L2080.8,1376.3 L2081.8,1374.7 L2082.8,1376.1 L2083.8,1374.8 L2084.8,1376.3 L2085.8,1374.6 L2086.8,1376.2 L2087.8,1374.7 L2088.8,1376.0 L2089.8,1374.6 L2090.8,1376.3 L2091.8,1374.7 L2092.8,1376.1 L2093.8,1374.7 L2094.8,1376.3 L2095.8,1374.8 L2096.8,1376.4 L2097.8,1374.9 L2098.8,1376.3 L2099.8,1374.5 L2100.8,1376.2 L2101.8,1374.6 L2102.8,1376.1 L2103.8,1374.8 L2104.8,1376.2 L2105.9,1374.8 L2106.9,1376.3 L2107.9,1374.7 L2108.9,1376.3 L2109.9,1374.5 L2110.9,1376.4 L2111.9,1374.6 L2112.9,1376.5 L2113.9,1374.5 L2114.9,1376.4 L2115.9,1374.8 L2116.9,1376.3 L2117.9,1374.6 L2118.9,1376.4 L2119.9,1374.5 L2120.9,1376.4 L2121.9,1374.7 L2122.9,1376.2 L2123.9,1374.7 L2124.9,1376.2 L2125.9,1374.7 L2126.9,1376.2 L2127.9,1375.0 L2128.9,1376.5 L2129.9,1374.6 L2130.9,1376.2 L2131.9,1375.0 L2132.9,1376.5 L2133.9,1374.7 L2134.9,1376.2 L2135.9,1374.6 L2136.9,1376.5 L2137.9,1374.8 L2138.9,1376.2 L2139.9,1375.0 L2140.9,1376.2 L2141.9,1374.8 L2142.9,1376.5 L2143.9,1374.7 L2144.9,1376.2 L2145.9,1374.7 L2146.9,1376.2 L2147.9,1374.8 L2148.9,1376.2 L2149.9,1375.1 L2150.9,1376.2 L2151.9,1374.7 L2152.9,1376.3 L2153.9,1375.1 L2154.9,1376.4 L2155.9,1374.9 L2156.9,1376.4 L2157.9,1374.8 L2158.9,1376.5 L2159.9,1374.7 L2160.9,1376.3 L2161.9,1374.8 L2162.9,1376.3 L2163.9,1375.0 L2164.9,1376.2 L2165.9,1374.7 L2166.9,1376.4 L2167.9,1374.8 L2168.9,1376.6 L2169.9,1374.9 L2170.9,1376.3 L2171.9,1375.0 L2173.0,1376.4 L2174.0,1374.9 L2175.0,1376.2 L2176.0,1374.6 L2177.0,1376.4 L2178.0,1374.6 L2179.0,1376.5 L2180.0,1374.6 L2181.0,1376.4 L2182.0,1374.6 L2183.0,1376.2 L2184.0,1374.5 L2185.0,1376.4 L2186.0,1374.8 L2187.0,1376.0 L2188.0,1374.8 L2189.1,1376.1 L2190.1,1374.4 L2191.1,1376.1 L2192.1,1374.4 L2193.1,1376.0 L2194.1,1374.5 L2195.1,1375.9 L2196.1,1374.4 L2197.1,1375.9 L2198.1,1374.7 L2199.1,1375.9 L2200.1,1374.4 L2201.1,1376.1 L2202.1,1374.5 L2203.1,1376.1 L2204.1,1374.2 L2205.2,1375.7 L2206.2,1374.2 L2207.2,1376.1 L2208.2,1374.1 L2209.1,1375.9 L2210.1,1374.3 L2211.1,1375.8 L2212.1,1374.1 L2213.1,1375.8 L2214.1,1374.3 L2215.1,1375.8 L2216.1,1374.1 L2217.1,1375.4 L2218.1,1374.1 L2219.1,1375.4 L2220.1,1374.0 L2221.0,1375.3 L2222.0,1373.9 L2223.0,1375.4 L2224.0,1373.7 L2225.0,1375.5 L2226.0,1374.0 L2227.0,1375.5 L2228.0,1373.7 L2229.0,1375.2 L2230.0,1373.5 L2231.0,1375.0 L2232.0,1373.7 L2233.0,1375.2 L2234.0,1373.7 L2235.0,1375.1 L2236.0,1373.3 L2237.0,1374.9 L2238.0,1373.3 L2239.0,1374.8 L2240.0,1373.1 L2241.0,1375.0 L2242.0,1373.4"/>
</g>
</g>
<text transform="translate(27.78,112.20) scale(1.0000,1)" font-size="107.8" letter-spacing="1.300" fill="#000" stroke="#000" stroke-width="0.5" stroke-linejoin="round">(a)</text>
<text transform="translate(1188.53,112.20) scale(1.0000,1)" font-size="107.8" letter-spacing="1.300" fill="#000" stroke="#000" stroke-width="0.5" stroke-linejoin="round">(b)</text>
<text transform="translate(767.90,277.70) scale(0.9657,1)" font-size="65.2" letter-spacing="0.000" fill="#000" stroke="#000" stroke-width="0.5" stroke-linejoin="round">C-O 1203</text>
<text transform="translate(15.75,1494.00) scale(0.9850,1)" font-size="70.9" letter-spacing="0.000" fill="#000" stroke="#000" stroke-width="0.5" stroke-linejoin="round">4000</text>
<text transform="translate(312.16,1494.00) scale(0.9850,1)" font-size="70.9" letter-spacing="0.000" fill="#000" stroke="#000" stroke-width="0.5" stroke-linejoin="round">3000</text>
<text transform="translate(607.49,1494.00) scale(0.9850,1)" font-size="70.9" letter-spacing="0.000" fill="#000" stroke="#000" stroke-width="0.5" stroke-linejoin="round">2000</text>
<text transform="translate(904.75,1494.00) scale(0.9850,1)" font-size="70.9" letter-spacing="0.000" fill="#000" stroke="#000" stroke-width="0.5" stroke-linejoin="round">1000</text>
<text transform="translate(306.10,1572.40) scale(1.0000,1)" font-size="68.6" letter-spacing="0.946" fill="#000" stroke="#000" stroke-width="0.5" stroke-linejoin="round">Wavelength (nm)</text>
<text transform="translate(1184.44,1494.00) scale(0.9960,1)" font-size="70.9" letter-spacing="0.000" fill="#000" stroke="#000" stroke-width="0.5" stroke-linejoin="round">9.0</text>
<text transform="translate(1352.49,1494.00) scale(0.9960,1)" font-size="70.9" letter-spacing="0.000" fill="#000" stroke="#000" stroke-width="0.5" stroke-linejoin="round">8.5</text>
<text transform="translate(1520.17,1494.00) scale(0.9960,1)" font-size="70.9" letter-spacing="0.000" fill="#000" stroke="#000" stroke-width="0.5" stroke-linejoin="round">8.0</text>
<text transform="translate(1687.72,1494.00) scale(0.9960,1)" font-size="70.9" letter-spacing="0.000" fill="#000" stroke="#000" stroke-width="0.5" stroke-linejoin="round">7.5</text>
<text transform="translate(1855.40,1494.00) scale(0.9960,1)" font-size="70.9" letter-spacing="0.000" fill="#000" stroke="#000" stroke-width="0.5" stroke-linejoin="round">7.0</text>
<text transform="translate(2023.45,1494.00) scale(0.9960,1)" font-size="70.9" letter-spacing="0.000" fill="#000" stroke="#000" stroke-width="0.5" stroke-linejoin="round">6.5</text>
<text transform="translate(2191.13,1494.00) scale(0.9960,1)" font-size="70.9" letter-spacing="0.000" fill="#000" stroke="#000" stroke-width="0.5" stroke-linejoin="round">6.0</text>
<text transform="translate(1678.55,1573.20) scale(1.0000,1)" font-size="68.3" letter-spacing="2.125" fill="#000" stroke="#000" stroke-width="0.5" stroke-linejoin="round">ppm</text>
<text y="280.00" fill="#ff0000" stroke="#ff0000" stroke-width="0.5" stroke-linejoin="round"><tspan x="98.86" font-size="102.3" textLength="273.48" lengthAdjust="spacingAndGlyphs">MBAB</tspan><tspan x="372.09" font-size="97.2" letter-spacing="-1.180">-aramid</tspan></text>
<text y="829.80" fill="#000c84" stroke="#000c84" stroke-width="0.5" stroke-linejoin="round"><tspan x="98.97" font-size="102.3" textLength="257.46" lengthAdjust="spacingAndGlyphs">PBAB</tspan><tspan x="357.29" font-size="97.2" letter-spacing="-1.180">-aramid</tspan></text>
<text y="280.00" fill="#ff0000" stroke="#ff0000" stroke-width="0.5" stroke-linejoin="round"><tspan x="1259.16" font-size="102.3" textLength="273.48" lengthAdjust="spacingAndGlyphs">MBAB</tspan><tspan x="1532.54" font-size="97.2" letter-spacing="-1.180">-aramid</tspan></text>
</svg></body></html>
